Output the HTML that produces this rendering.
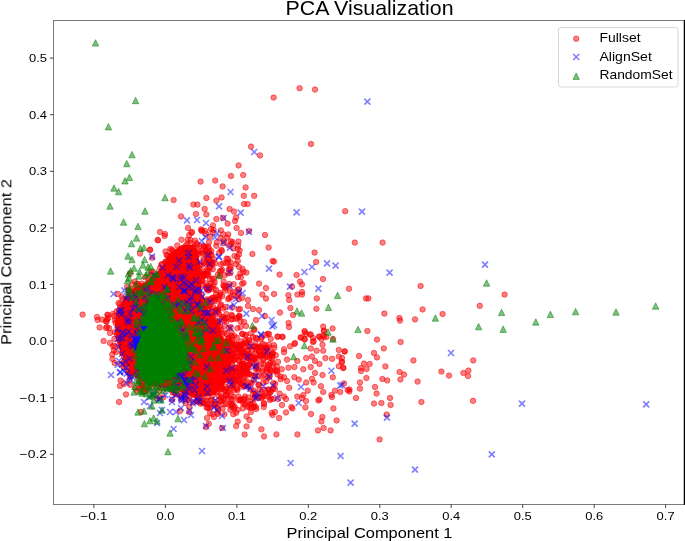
<!DOCTYPE html><html><head><meta charset="utf-8"><style>html,body{margin:0;padding:0;background:#fff;overflow:hidden}svg{display:block}</style></head><body><svg width="685" height="541" viewBox="0 0 685 541">
<defs>
<clipPath id="c"><rect x="53.5" y="20.5" width="631.5" height="484.0"/></clipPath>
<circle id="o" r="2.75" fill="rgba(255,0,0,0.5)" stroke="rgba(240,0,10,0.5)" stroke-width="1"/>
<path id="x" d="M-3.0 -3.0L3.0 3.0M-3.0 3.0L3.0 -3.0" stroke="rgba(0,0,255,0.5)" stroke-width="1.6" fill="none"/>
<path id="t" d="M0 -3.2L-3.2 3.2L3.2 3.2Z" fill="rgba(0,128,0,0.5)" stroke="rgba(0,128,0,0.5)" stroke-width="1"/>
<filter id="gs" x="-5%" y="-5%" width="110%" height="110%"><feColorMatrix type="saturate" values="0"/></filter>
</defs>
<rect width="685" height="541" fill="#fff"/>
<g clip-path="url(#c)">
<polygon points="145.0,282.0 155.0,274.0 163.0,266.0 167.0,256.0 174.0,250.0 182.0,245.0 194.0,245.0 198.0,252.0 200.0,264.0 201.0,280.0 202.0,296.0 208.0,310.0 218.0,322.0 222.0,335.0 228.0,345.0 232.0,360.0 228.0,380.0 215.0,395.0 195.0,398.0 175.0,390.0 150.0,385.0 135.0,378.0 124.0,360.0 116.0,340.0 115.0,322.0 120.0,305.0 130.0,290.0" fill="#ff0000"/>
<use href="#o" x="241.5" y="353.3"/>
<use href="#o" x="118.0" y="294.0"/>
<use href="#o" x="185.2" y="328.0"/>
<use href="#o" x="222.2" y="296.1"/>
<use href="#o" x="189.0" y="266.0"/>
<use href="#o" x="221.2" y="270.6"/>
<use href="#o" x="184.0" y="361.5"/>
<use href="#o" x="175.7" y="394.1"/>
<use href="#o" x="185.3" y="379.7"/>
<use href="#o" x="132.1" y="358.6"/>
<use href="#o" x="153.0" y="373.9"/>
<use href="#o" x="199.8" y="264.3"/>
<use href="#o" x="153.2" y="287.7"/>
<use href="#o" x="219.9" y="271.3"/>
<use href="#o" x="212.7" y="395.4"/>
<use href="#o" x="183.4" y="318.7"/>
<use href="#o" x="151.0" y="289.5"/>
<use href="#o" x="126.0" y="349.9"/>
<use href="#o" x="244.4" y="398.5"/>
<use href="#o" x="167.4" y="266.4"/>
<use href="#o" x="260.2" y="346.3"/>
<use href="#o" x="191.6" y="289.9"/>
<use href="#o" x="163.2" y="282.7"/>
<use href="#o" x="239.3" y="317.5"/>
<use href="#o" x="136.7" y="391.0"/>
<use href="#o" x="237.4" y="390.2"/>
<use href="#o" x="262.4" y="371.2"/>
<use href="#o" x="175.5" y="288.5"/>
<use href="#o" x="202.2" y="338.5"/>
<use href="#o" x="130.1" y="318.9"/>
<use href="#o" x="172.2" y="399.8"/>
<use href="#o" x="136.6" y="292.3"/>
<use href="#o" x="138.1" y="291.7"/>
<use href="#o" x="232.2" y="346.1"/>
<use href="#o" x="128.9" y="371.3"/>
<use href="#o" x="130.7" y="319.4"/>
<use href="#o" x="230.7" y="268.4"/>
<use href="#o" x="211.4" y="344.0"/>
<use href="#o" x="240.5" y="327.2"/>
<use href="#o" x="179.8" y="317.4"/>
<use href="#o" x="242.7" y="384.5"/>
<use href="#o" x="173.9" y="372.8"/>
<use href="#o" x="261.8" y="354.5"/>
<use href="#o" x="112.5" y="359.0"/>
<use href="#o" x="139.8" y="306.9"/>
<use href="#o" x="257.7" y="376.6"/>
<use href="#o" x="139.0" y="381.5"/>
<use href="#o" x="199.2" y="400.7"/>
<use href="#o" x="212.9" y="363.6"/>
<use href="#o" x="225.9" y="370.9"/>
<use href="#o" x="135.7" y="340.7"/>
<use href="#o" x="156.9" y="398.2"/>
<use href="#o" x="212.2" y="261.9"/>
<use href="#o" x="152.8" y="348.8"/>
<use href="#o" x="151.9" y="371.1"/>
<use href="#o" x="173.8" y="259.7"/>
<use href="#o" x="141.2" y="382.4"/>
<use href="#o" x="234.3" y="378.6"/>
<use href="#o" x="255.9" y="369.2"/>
<use href="#o" x="126.4" y="317.5"/>
<use href="#o" x="179.9" y="322.9"/>
<use href="#o" x="228.2" y="356.7"/>
<use href="#o" x="228.5" y="404.6"/>
<use href="#o" x="246.3" y="372.8"/>
<use href="#o" x="177.3" y="383.9"/>
<use href="#o" x="275.9" y="355.2"/>
<use href="#o" x="116.1" y="351.9"/>
<use href="#o" x="193.9" y="268.0"/>
<use href="#o" x="168.0" y="373.7"/>
<use href="#o" x="221.2" y="304.7"/>
<use href="#o" x="226.7" y="366.6"/>
<use href="#o" x="181.4" y="396.4"/>
<use href="#o" x="181.5" y="263.4"/>
<use href="#o" x="257.5" y="368.4"/>
<use href="#o" x="229.7" y="378.0"/>
<use href="#o" x="148.1" y="370.2"/>
<use href="#o" x="189.9" y="309.6"/>
<use href="#o" x="165.5" y="251.5"/>
<use href="#o" x="177.4" y="305.7"/>
<use href="#o" x="140.2" y="293.4"/>
<use href="#o" x="198.5" y="309.3"/>
<use href="#o" x="189.4" y="406.8"/>
<use href="#o" x="255.2" y="346.4"/>
<use href="#o" x="121.3" y="313.9"/>
<use href="#o" x="219.6" y="355.7"/>
<use href="#o" x="116.6" y="311.3"/>
<use href="#o" x="188.8" y="398.5"/>
<use href="#o" x="129.0" y="299.7"/>
<use href="#o" x="140.2" y="324.5"/>
<use href="#o" x="230.2" y="353.2"/>
<use href="#o" x="123.9" y="362.2"/>
<use href="#o" x="217.0" y="404.2"/>
<use href="#o" x="216.3" y="245.8"/>
<use href="#o" x="225.2" y="290.7"/>
<use href="#o" x="200.7" y="309.4"/>
<use href="#o" x="202.1" y="313.2"/>
<use href="#o" x="162.7" y="363.7"/>
<use href="#o" x="264.9" y="344.8"/>
<use href="#o" x="165.2" y="350.2"/>
<use href="#o" x="203.6" y="348.5"/>
<use href="#o" x="215.1" y="345.3"/>
<use href="#o" x="140.5" y="364.9"/>
<use href="#o" x="239.5" y="380.0"/>
<use href="#o" x="178.7" y="332.7"/>
<use href="#o" x="210.8" y="388.2"/>
<use href="#o" x="148.8" y="338.6"/>
<use href="#o" x="212.6" y="414.3"/>
<use href="#o" x="229.0" y="379.0"/>
<use href="#o" x="234.2" y="336.0"/>
<use href="#o" x="167.0" y="325.0"/>
<use href="#o" x="275.3" y="370.3"/>
<use href="#o" x="195.7" y="382.6"/>
<use href="#o" x="262.7" y="396.8"/>
<use href="#o" x="161.4" y="264.5"/>
<use href="#o" x="162.4" y="270.6"/>
<use href="#o" x="190.2" y="318.5"/>
<use href="#o" x="205.0" y="264.1"/>
<use href="#o" x="193.8" y="262.1"/>
<use href="#o" x="135.4" y="388.0"/>
<use href="#o" x="238.5" y="380.8"/>
<use href="#o" x="244.0" y="381.1"/>
<use href="#o" x="134.6" y="355.3"/>
<use href="#o" x="118.5" y="303.0"/>
<use href="#o" x="197.4" y="244.7"/>
<use href="#o" x="177.3" y="245.4"/>
<use href="#o" x="233.2" y="248.5"/>
<use href="#o" x="140.7" y="364.9"/>
<use href="#o" x="163.2" y="397.4"/>
<use href="#o" x="160.5" y="361.4"/>
<use href="#o" x="107.4" y="314.7"/>
<use href="#o" x="153.7" y="364.8"/>
<use href="#o" x="182.2" y="357.0"/>
<use href="#o" x="109.2" y="328.2"/>
<use href="#o" x="231.5" y="319.5"/>
<use href="#o" x="130.6" y="358.3"/>
<use href="#o" x="176.6" y="263.8"/>
<use href="#o" x="151.3" y="365.0"/>
<use href="#o" x="230.8" y="241.3"/>
<use href="#o" x="123.8" y="322.5"/>
<use href="#o" x="224.2" y="286.0"/>
<use href="#o" x="112.8" y="314.0"/>
<use href="#o" x="219.3" y="345.9"/>
<use href="#o" x="159.3" y="310.6"/>
<use href="#o" x="184.2" y="369.7"/>
<use href="#o" x="230.6" y="399.5"/>
<use href="#o" x="183.9" y="251.3"/>
<use href="#o" x="139.1" y="388.7"/>
<use href="#o" x="177.6" y="370.0"/>
<use href="#o" x="200.5" y="389.8"/>
<use href="#o" x="223.3" y="398.8"/>
<use href="#o" x="161.7" y="292.3"/>
<use href="#o" x="204.8" y="323.6"/>
<use href="#o" x="144.4" y="301.4"/>
<use href="#o" x="196.0" y="377.7"/>
<use href="#o" x="271.8" y="389.4"/>
<use href="#o" x="118.6" y="313.7"/>
<use href="#o" x="172.7" y="392.6"/>
<use href="#o" x="242.9" y="355.6"/>
<use href="#o" x="187.3" y="297.3"/>
<use href="#o" x="157.7" y="372.8"/>
<use href="#o" x="192.3" y="253.8"/>
<use href="#o" x="182.4" y="324.4"/>
<use href="#o" x="259.5" y="389.2"/>
<use href="#o" x="180.5" y="373.8"/>
<use href="#o" x="141.7" y="323.3"/>
<use href="#o" x="250.8" y="333.4"/>
<use href="#o" x="107.0" y="327.0"/>
<use href="#o" x="230.7" y="327.1"/>
<use href="#o" x="200.2" y="376.2"/>
<use href="#o" x="203.9" y="276.0"/>
<use href="#o" x="181.6" y="318.0"/>
<use href="#o" x="105.8" y="321.2"/>
<use href="#o" x="185.9" y="380.6"/>
<use href="#o" x="119.8" y="346.6"/>
<use href="#o" x="114.0" y="315.9"/>
<use href="#o" x="159.8" y="279.2"/>
<use href="#o" x="204.9" y="383.7"/>
<use href="#o" x="242.4" y="370.9"/>
<use href="#o" x="213.9" y="386.1"/>
<use href="#o" x="256.7" y="364.1"/>
<use href="#o" x="159.2" y="289.3"/>
<use href="#o" x="132.3" y="319.6"/>
<use href="#o" x="220.9" y="230.4"/>
<use href="#o" x="223.3" y="308.5"/>
<use href="#o" x="185.8" y="307.2"/>
<use href="#o" x="214.9" y="333.3"/>
<use href="#o" x="232.1" y="357.0"/>
<use href="#o" x="244.2" y="399.4"/>
<use href="#o" x="151.0" y="326.8"/>
<use href="#o" x="166.1" y="320.7"/>
<use href="#o" x="132.5" y="335.1"/>
<use href="#o" x="232.2" y="386.2"/>
<use href="#o" x="150.3" y="306.7"/>
<use href="#o" x="201.7" y="231.1"/>
<use href="#o" x="198.4" y="370.7"/>
<use href="#o" x="167.5" y="280.5"/>
<use href="#o" x="199.6" y="320.7"/>
<use href="#o" x="157.6" y="383.2"/>
<use href="#o" x="129.9" y="375.4"/>
<use href="#o" x="196.2" y="268.5"/>
<use href="#o" x="132.0" y="299.4"/>
<use href="#o" x="226.4" y="321.7"/>
<use href="#o" x="197.7" y="397.9"/>
<use href="#o" x="174.9" y="375.0"/>
<use href="#o" x="193.0" y="395.0"/>
<use href="#o" x="133.0" y="349.1"/>
<use href="#o" x="180.1" y="314.9"/>
<use href="#o" x="244.9" y="386.1"/>
<use href="#o" x="181.4" y="239.7"/>
<use href="#o" x="235.7" y="318.9"/>
<use href="#o" x="210.7" y="266.6"/>
<use href="#o" x="277.5" y="374.4"/>
<use href="#o" x="120.5" y="380.5"/>
<use href="#o" x="231.7" y="364.2"/>
<use href="#o" x="121.2" y="364.1"/>
<use href="#o" x="260.8" y="339.3"/>
<use href="#o" x="129.2" y="339.6"/>
<use href="#o" x="193.3" y="402.4"/>
<use href="#o" x="266.7" y="371.4"/>
<use href="#o" x="207.3" y="404.2"/>
<use href="#o" x="255.8" y="337.8"/>
<use href="#o" x="186.9" y="272.1"/>
<use href="#o" x="264.7" y="396.1"/>
<use href="#o" x="268.5" y="393.7"/>
<use href="#o" x="112.2" y="354.4"/>
<use href="#o" x="204.5" y="387.9"/>
<use href="#o" x="210.5" y="307.1"/>
<use href="#o" x="148.3" y="278.9"/>
<use href="#o" x="203.4" y="320.8"/>
<use href="#o" x="189.0" y="374.4"/>
<use href="#o" x="218.9" y="374.6"/>
<use href="#o" x="186.1" y="252.6"/>
<use href="#o" x="106.7" y="321.5"/>
<use href="#o" x="193.1" y="389.4"/>
<use href="#o" x="167.7" y="303.0"/>
<use href="#o" x="174.0" y="301.9"/>
<use href="#o" x="268.1" y="354.1"/>
<use href="#o" x="223.9" y="240.9"/>
<use href="#o" x="265.4" y="355.6"/>
<use href="#o" x="147.6" y="389.0"/>
<use href="#o" x="222.3" y="334.4"/>
<use href="#o" x="227.9" y="398.6"/>
<use href="#o" x="209.0" y="285.9"/>
<use href="#o" x="157.7" y="364.3"/>
<use href="#o" x="167.8" y="338.8"/>
<use href="#o" x="140.0" y="289.0"/>
<use href="#o" x="159.3" y="390.8"/>
<use href="#o" x="244.4" y="343.4"/>
<use href="#o" x="196.4" y="262.6"/>
<use href="#o" x="148.0" y="367.1"/>
<use href="#o" x="243.4" y="404.0"/>
<use href="#o" x="263.1" y="354.5"/>
<use href="#o" x="195.0" y="240.7"/>
<use href="#o" x="261.1" y="363.7"/>
<use href="#o" x="168.3" y="273.8"/>
<use href="#o" x="165.8" y="321.7"/>
<use href="#o" x="128.8" y="325.8"/>
<use href="#o" x="160.2" y="366.9"/>
<use href="#o" x="181.6" y="355.4"/>
<use href="#o" x="207.3" y="288.0"/>
<use href="#o" x="217.9" y="274.5"/>
<use href="#o" x="187.3" y="243.5"/>
<use href="#o" x="131.0" y="331.8"/>
<use href="#o" x="107.8" y="315.2"/>
<use href="#o" x="182.9" y="303.2"/>
<use href="#o" x="113.9" y="350.5"/>
<use href="#o" x="205.0" y="308.3"/>
<use href="#o" x="205.0" y="367.6"/>
<use href="#o" x="221.9" y="250.9"/>
<use href="#o" x="200.0" y="345.7"/>
<use href="#o" x="165.0" y="361.3"/>
<use href="#o" x="201.9" y="230.2"/>
<use href="#o" x="220.3" y="305.4"/>
<use href="#o" x="207.9" y="407.1"/>
<use href="#o" x="168.6" y="370.9"/>
<use href="#o" x="174.6" y="378.9"/>
<use href="#o" x="217.5" y="412.6"/>
<use href="#o" x="123.8" y="366.9"/>
<use href="#o" x="122.9" y="352.4"/>
<use href="#o" x="186.8" y="251.6"/>
<use href="#o" x="143.1" y="350.8"/>
<use href="#o" x="144.7" y="298.0"/>
<use href="#o" x="153.9" y="310.4"/>
<use href="#o" x="151.4" y="335.3"/>
<use href="#o" x="267.4" y="368.0"/>
<use href="#o" x="273.9" y="345.1"/>
<use href="#o" x="258.4" y="384.9"/>
<use href="#o" x="175.6" y="287.2"/>
<use href="#o" x="181.9" y="253.1"/>
<use href="#o" x="218.8" y="330.2"/>
<use href="#o" x="161.7" y="330.1"/>
<use href="#o" x="163.6" y="368.8"/>
<use href="#o" x="223.6" y="243.2"/>
<use href="#o" x="157.1" y="302.5"/>
<use href="#o" x="193.9" y="323.7"/>
<use href="#o" x="182.7" y="277.8"/>
<use href="#o" x="203.2" y="400.3"/>
<use href="#o" x="137.5" y="312.7"/>
<use href="#o" x="224.3" y="359.5"/>
<use href="#o" x="164.4" y="342.3"/>
<use href="#o" x="198.0" y="305.7"/>
<use href="#o" x="257.1" y="338.6"/>
<use href="#o" x="159.7" y="386.3"/>
<use href="#o" x="232.7" y="385.4"/>
<use href="#o" x="195.7" y="372.3"/>
<use href="#o" x="202.5" y="365.0"/>
<use href="#o" x="173.7" y="275.0"/>
<use href="#o" x="198.9" y="386.6"/>
<use href="#o" x="172.0" y="358.2"/>
<use href="#o" x="237.3" y="328.3"/>
<use href="#o" x="232.0" y="373.2"/>
<use href="#o" x="238.5" y="309.4"/>
<use href="#o" x="112.9" y="346.2"/>
<use href="#o" x="231.4" y="403.8"/>
<use href="#o" x="148.6" y="375.5"/>
<use href="#o" x="159.5" y="397.2"/>
<use href="#o" x="156.4" y="321.5"/>
<use href="#o" x="193.6" y="274.4"/>
<use href="#o" x="262.8" y="394.3"/>
<use href="#o" x="202.3" y="350.2"/>
<use href="#o" x="216.0" y="297.3"/>
<use href="#o" x="114.7" y="363.1"/>
<use href="#o" x="142.3" y="385.1"/>
<use href="#o" x="212.4" y="314.9"/>
<use href="#o" x="172.9" y="250.5"/>
<use href="#o" x="130.9" y="337.6"/>
<use href="#o" x="225.3" y="306.9"/>
<use href="#o" x="192.0" y="356.1"/>
<use href="#o" x="179.2" y="287.0"/>
<use href="#o" x="128.4" y="297.5"/>
<use href="#o" x="213.4" y="384.8"/>
<use href="#o" x="162.4" y="348.7"/>
<use href="#o" x="165.9" y="335.7"/>
<use href="#o" x="193.2" y="247.6"/>
<use href="#o" x="210.3" y="358.7"/>
<use href="#o" x="234.7" y="359.8"/>
<use href="#o" x="199.6" y="363.6"/>
<use href="#o" x="137.8" y="323.8"/>
<use href="#o" x="231.1" y="395.6"/>
<use href="#o" x="197.0" y="307.7"/>
<use href="#o" x="130.1" y="384.8"/>
<use href="#o" x="146.5" y="339.2"/>
<use href="#o" x="122.9" y="333.0"/>
<use href="#o" x="164.7" y="290.8"/>
<use href="#o" x="228.3" y="341.7"/>
<use href="#o" x="235.7" y="381.3"/>
<use href="#o" x="161.9" y="269.8"/>
<use href="#o" x="159.6" y="384.9"/>
<use href="#o" x="181.5" y="299.7"/>
<use href="#o" x="175.7" y="348.9"/>
<use href="#o" x="147.9" y="379.0"/>
<use href="#o" x="139.6" y="333.2"/>
<use href="#o" x="193.7" y="328.3"/>
<use href="#o" x="175.7" y="371.6"/>
<use href="#o" x="146.3" y="391.3"/>
<use href="#o" x="156.6" y="305.0"/>
<use href="#o" x="179.3" y="330.5"/>
<use href="#o" x="206.2" y="377.0"/>
<use href="#o" x="137.3" y="368.9"/>
<use href="#o" x="229.5" y="385.8"/>
<use href="#o" x="174.6" y="328.5"/>
<use href="#o" x="189.0" y="259.7"/>
<use href="#o" x="216.2" y="323.6"/>
<use href="#o" x="200.3" y="373.8"/>
<use href="#o" x="207.7" y="348.6"/>
<use href="#o" x="171.5" y="262.7"/>
<use href="#o" x="194.4" y="314.7"/>
<use href="#o" x="196.6" y="395.5"/>
<use href="#o" x="176.9" y="282.4"/>
<use href="#o" x="174.6" y="392.2"/>
<use href="#o" x="170.6" y="260.2"/>
<use href="#o" x="182.2" y="394.8"/>
<use href="#o" x="204.0" y="275.0"/>
<use href="#o" x="198.1" y="340.4"/>
<use href="#o" x="208.2" y="390.2"/>
<use href="#o" x="214.9" y="320.6"/>
<use href="#o" x="184.6" y="286.3"/>
<use href="#o" x="184.9" y="290.3"/>
<use href="#o" x="192.5" y="301.7"/>
<use href="#o" x="187.1" y="389.1"/>
<use href="#o" x="179.6" y="359.1"/>
<use href="#o" x="172.0" y="306.5"/>
<use href="#o" x="191.4" y="276.0"/>
<use href="#o" x="183.0" y="389.5"/>
<use href="#o" x="168.5" y="273.3"/>
<use href="#o" x="168.8" y="273.8"/>
<use href="#o" x="200.3" y="307.3"/>
<use href="#o" x="205.0" y="403.5"/>
<use href="#o" x="171.7" y="249.7"/>
<use href="#o" x="172.1" y="389.8"/>
<use href="#o" x="175.2" y="343.2"/>
<use href="#o" x="194.6" y="250.7"/>
<use href="#o" x="221.4" y="388.4"/>
<use href="#o" x="156.2" y="341.1"/>
<use href="#o" x="231.1" y="353.1"/>
<use href="#o" x="183.0" y="288.3"/>
<use href="#o" x="187.4" y="307.1"/>
<use href="#o" x="116.9" y="319.1"/>
<use href="#o" x="244.3" y="367.6"/>
<use href="#o" x="215.0" y="339.5"/>
<use href="#o" x="123.1" y="349.0"/>
<use href="#o" x="189.4" y="343.5"/>
<use href="#o" x="190.5" y="243.1"/>
<use href="#o" x="194.9" y="293.0"/>
<use href="#o" x="114.8" y="331.9"/>
<use href="#o" x="199.5" y="370.2"/>
<use href="#o" x="236.8" y="389.0"/>
<use href="#o" x="171.7" y="257.0"/>
<use href="#o" x="149.8" y="354.8"/>
<use href="#o" x="182.7" y="285.1"/>
<use href="#o" x="184.1" y="338.5"/>
<use href="#o" x="200.6" y="298.6"/>
<use href="#o" x="150.1" y="379.3"/>
<use href="#o" x="199.9" y="268.8"/>
<use href="#o" x="184.1" y="255.6"/>
<use href="#o" x="205.5" y="251.7"/>
<use href="#o" x="215.1" y="335.9"/>
<use href="#o" x="208.5" y="372.0"/>
<use href="#o" x="208.5" y="363.1"/>
<use href="#o" x="203.7" y="338.5"/>
<use href="#o" x="200.6" y="313.9"/>
<use href="#o" x="172.5" y="277.7"/>
<use href="#o" x="211.8" y="368.2"/>
<use href="#o" x="191.3" y="311.2"/>
<use href="#o" x="178.1" y="277.6"/>
<use href="#o" x="225.9" y="395.6"/>
<use href="#o" x="171.9" y="296.4"/>
<use href="#o" x="204.3" y="276.2"/>
<use href="#o" x="147.9" y="313.2"/>
<use href="#o" x="200.1" y="375.2"/>
<use href="#o" x="175.7" y="297.1"/>
<use href="#o" x="160.1" y="332.4"/>
<use href="#o" x="116.9" y="334.4"/>
<use href="#o" x="202.8" y="394.0"/>
<use href="#o" x="133.1" y="316.9"/>
<use href="#o" x="173.7" y="338.4"/>
<use href="#o" x="182.6" y="271.3"/>
<use href="#o" x="167.6" y="255.4"/>
<use href="#o" x="133.4" y="292.8"/>
<use href="#o" x="203.8" y="274.4"/>
<use href="#o" x="127.7" y="341.9"/>
<use href="#o" x="187.2" y="362.4"/>
<use href="#o" x="223.5" y="380.2"/>
<use href="#o" x="185.3" y="362.9"/>
<use href="#o" x="204.9" y="352.3"/>
<use href="#o" x="115.7" y="322.9"/>
<use href="#o" x="181.6" y="380.4"/>
<use href="#o" x="175.0" y="348.0"/>
<use href="#o" x="180.3" y="309.4"/>
<use href="#o" x="179.9" y="257.0"/>
<use href="#o" x="179.8" y="256.8"/>
<use href="#o" x="227.6" y="353.8"/>
<use href="#o" x="206.4" y="358.3"/>
<use href="#o" x="185.7" y="403.1"/>
<use href="#o" x="176.6" y="296.5"/>
<use href="#o" x="224.8" y="350.6"/>
<use href="#o" x="195.7" y="359.0"/>
<use href="#o" x="224.4" y="332.6"/>
<use href="#o" x="141.6" y="292.3"/>
<use href="#o" x="172.4" y="360.8"/>
<use href="#o" x="225.6" y="380.0"/>
<use href="#o" x="171.7" y="346.0"/>
<use href="#o" x="171.0" y="329.1"/>
<use href="#o" x="194.5" y="270.2"/>
<use href="#o" x="193.5" y="379.7"/>
<use href="#o" x="212.7" y="345.2"/>
<use href="#o" x="158.2" y="372.9"/>
<use href="#o" x="129.5" y="373.6"/>
<use href="#o" x="207.2" y="388.3"/>
<use href="#o" x="134.8" y="371.1"/>
<use href="#o" x="166.0" y="383.7"/>
<use href="#o" x="181.4" y="277.7"/>
<use href="#o" x="152.6" y="336.9"/>
<use href="#o" x="153.1" y="323.6"/>
<use href="#o" x="179.5" y="378.7"/>
<use href="#o" x="163.0" y="343.9"/>
<use href="#o" x="160.2" y="363.8"/>
<use href="#o" x="225.2" y="349.3"/>
<use href="#o" x="210.5" y="347.3"/>
<use href="#o" x="159.1" y="341.4"/>
<use href="#o" x="126.3" y="351.2"/>
<use href="#o" x="182.8" y="349.3"/>
<use href="#o" x="187.1" y="365.6"/>
<use href="#o" x="192.0" y="283.1"/>
<use href="#o" x="161.5" y="362.6"/>
<use href="#o" x="138.0" y="293.0"/>
<use href="#o" x="143.4" y="392.0"/>
<use href="#o" x="220.3" y="379.6"/>
<use href="#o" x="168.3" y="362.9"/>
<use href="#o" x="210.4" y="346.5"/>
<use href="#o" x="206.9" y="270.0"/>
<use href="#o" x="130.8" y="370.5"/>
<use href="#o" x="147.8" y="382.8"/>
<use href="#o" x="201.4" y="309.1"/>
<use href="#o" x="213.8" y="388.2"/>
<use href="#o" x="147.2" y="317.5"/>
<use href="#o" x="179.3" y="338.6"/>
<use href="#o" x="186.2" y="279.1"/>
<use href="#o" x="220.5" y="327.1"/>
<use href="#o" x="171.9" y="315.0"/>
<use href="#o" x="122.5" y="353.1"/>
<use href="#o" x="155.2" y="321.4"/>
<use href="#o" x="181.0" y="287.0"/>
<use href="#o" x="238.8" y="375.7"/>
<use href="#o" x="141.8" y="289.8"/>
<use href="#o" x="178.4" y="267.6"/>
<use href="#o" x="170.4" y="306.2"/>
<use href="#o" x="208.0" y="258.9"/>
<use href="#o" x="222.4" y="347.2"/>
<use href="#o" x="243.5" y="367.7"/>
<use href="#o" x="174.2" y="302.3"/>
<use href="#o" x="142.2" y="294.3"/>
<use href="#o" x="186.4" y="355.5"/>
<use href="#o" x="151.4" y="387.1"/>
<use href="#o" x="178.6" y="379.5"/>
<use href="#o" x="181.2" y="399.6"/>
<use href="#o" x="178.5" y="359.0"/>
<use href="#o" x="180.9" y="248.8"/>
<use href="#o" x="135.9" y="353.8"/>
<use href="#o" x="229.3" y="371.1"/>
<use href="#o" x="202.2" y="345.1"/>
<use href="#o" x="166.0" y="300.1"/>
<use href="#o" x="215.4" y="361.9"/>
<use href="#o" x="171.5" y="338.1"/>
<use href="#o" x="141.0" y="380.2"/>
<use href="#o" x="156.1" y="318.9"/>
<use href="#o" x="136.8" y="338.5"/>
<use href="#o" x="125.5" y="329.3"/>
<use href="#o" x="165.6" y="319.5"/>
<use href="#o" x="120.9" y="318.6"/>
<use href="#o" x="206.8" y="316.2"/>
<use href="#o" x="187.6" y="337.0"/>
<use href="#o" x="203.4" y="374.7"/>
<use href="#o" x="178.4" y="381.0"/>
<use href="#o" x="167.7" y="334.0"/>
<use href="#o" x="205.9" y="381.0"/>
<use href="#o" x="181.7" y="355.2"/>
<use href="#o" x="128.6" y="292.4"/>
<use href="#o" x="147.4" y="354.9"/>
<use href="#o" x="189.7" y="301.7"/>
<use href="#o" x="175.1" y="382.7"/>
<use href="#o" x="183.1" y="318.9"/>
<use href="#o" x="210.8" y="405.6"/>
<use href="#o" x="142.0" y="286.4"/>
<use href="#o" x="180.5" y="264.1"/>
<use href="#o" x="181.4" y="309.5"/>
<use href="#o" x="164.1" y="345.0"/>
<use href="#o" x="200.1" y="392.5"/>
<use href="#o" x="145.7" y="389.1"/>
<use href="#o" x="188.0" y="332.8"/>
<use href="#o" x="170.3" y="248.9"/>
<use href="#o" x="206.4" y="332.0"/>
<use href="#o" x="152.0" y="351.0"/>
<use href="#o" x="193.9" y="258.2"/>
<use href="#o" x="202.0" y="356.5"/>
<use href="#o" x="169.0" y="262.2"/>
<use href="#o" x="191.1" y="340.0"/>
<use href="#o" x="183.0" y="295.2"/>
<use href="#o" x="186.4" y="289.9"/>
<use href="#o" x="194.3" y="316.4"/>
<use href="#o" x="134.8" y="281.5"/>
<use href="#o" x="171.4" y="367.9"/>
<use href="#o" x="129.2" y="291.1"/>
<use href="#o" x="220.1" y="382.4"/>
<use href="#o" x="140.9" y="357.9"/>
<use href="#o" x="143.5" y="369.9"/>
<use href="#o" x="141.4" y="312.6"/>
<use href="#o" x="171.9" y="389.2"/>
<use href="#o" x="210.3" y="400.6"/>
<use href="#o" x="201.8" y="280.2"/>
<use href="#o" x="189.4" y="277.2"/>
<use href="#o" x="156.6" y="373.2"/>
<use href="#o" x="196.5" y="285.3"/>
<use href="#o" x="132.2" y="284.3"/>
<use href="#o" x="217.7" y="325.9"/>
<use href="#o" x="126.2" y="330.3"/>
<use href="#o" x="227.5" y="359.2"/>
<use href="#o" x="174.5" y="301.9"/>
<use href="#o" x="214.3" y="353.0"/>
<use href="#o" x="229.8" y="355.7"/>
<use href="#o" x="227.5" y="348.3"/>
<use href="#o" x="140.2" y="365.8"/>
<use href="#o" x="162.0" y="264.2"/>
<use href="#o" x="193.6" y="272.8"/>
<use href="#o" x="132.3" y="348.5"/>
<use href="#o" x="200.6" y="246.1"/>
<use href="#o" x="209.1" y="380.2"/>
<use href="#o" x="225.4" y="390.3"/>
<use href="#o" x="203.6" y="258.8"/>
<use href="#o" x="208.8" y="350.1"/>
<use href="#o" x="161.2" y="301.0"/>
<use href="#o" x="177.4" y="394.7"/>
<use href="#o" x="179.5" y="260.7"/>
<use href="#o" x="168.9" y="281.7"/>
<use href="#o" x="140.7" y="337.8"/>
<use href="#o" x="127.7" y="371.4"/>
<use href="#o" x="134.6" y="367.4"/>
<use href="#o" x="185.7" y="391.6"/>
<use href="#o" x="209.6" y="267.6"/>
<use href="#o" x="171.8" y="291.3"/>
<use href="#o" x="172.8" y="261.8"/>
<use href="#o" x="187.0" y="343.1"/>
<use href="#o" x="208.2" y="381.5"/>
<use href="#o" x="124.1" y="322.9"/>
<use href="#o" x="190.3" y="380.0"/>
<use href="#o" x="114.7" y="320.1"/>
<use href="#o" x="186.8" y="251.1"/>
<use href="#o" x="193.1" y="289.8"/>
<use href="#o" x="198.7" y="400.3"/>
<use href="#o" x="159.0" y="298.8"/>
<use href="#o" x="229.3" y="356.2"/>
<use href="#o" x="224.0" y="346.0"/>
<use href="#o" x="232.0" y="361.7"/>
<use href="#o" x="197.3" y="291.9"/>
<use href="#o" x="199.0" y="252.3"/>
<use href="#o" x="223.3" y="351.9"/>
<use href="#o" x="189.3" y="302.1"/>
<use href="#o" x="141.9" y="337.2"/>
<use href="#o" x="158.0" y="310.7"/>
<use href="#o" x="208.7" y="356.6"/>
<use href="#o" x="150.0" y="358.1"/>
<use href="#o" x="224.7" y="346.8"/>
<use href="#o" x="183.2" y="368.3"/>
<use href="#o" x="150.0" y="354.8"/>
<use href="#o" x="193.5" y="304.8"/>
<use href="#o" x="190.6" y="386.1"/>
<use href="#o" x="155.5" y="319.0"/>
<use href="#o" x="159.9" y="370.7"/>
<use href="#o" x="176.7" y="356.4"/>
<use href="#o" x="199.7" y="338.5"/>
<use href="#o" x="186.0" y="355.0"/>
<use href="#o" x="164.2" y="290.6"/>
<use href="#o" x="124.1" y="346.8"/>
<use href="#o" x="184.2" y="395.3"/>
<use href="#o" x="135.3" y="291.2"/>
<use href="#o" x="178.7" y="346.2"/>
<use href="#o" x="207.4" y="378.3"/>
<use href="#o" x="192.7" y="265.2"/>
<use href="#o" x="177.8" y="293.4"/>
<use href="#o" x="175.7" y="255.9"/>
<use href="#o" x="152.2" y="329.0"/>
<use href="#o" x="184.3" y="354.1"/>
<use href="#o" x="148.2" y="299.5"/>
<use href="#o" x="150.9" y="274.6"/>
<use href="#o" x="174.3" y="267.2"/>
<use href="#o" x="192.5" y="251.9"/>
<use href="#o" x="161.6" y="281.0"/>
<use href="#o" x="165.3" y="261.9"/>
<use href="#o" x="193.3" y="305.7"/>
<use href="#o" x="125.8" y="315.2"/>
<use href="#o" x="182.3" y="352.2"/>
<use href="#o" x="132.6" y="371.1"/>
<use href="#o" x="163.2" y="328.5"/>
<use href="#o" x="190.4" y="309.6"/>
<use href="#o" x="175.4" y="344.9"/>
<use href="#o" x="122.4" y="347.9"/>
<use href="#o" x="189.5" y="269.8"/>
<use href="#o" x="163.4" y="316.3"/>
<use href="#o" x="196.4" y="311.3"/>
<use href="#o" x="215.9" y="345.1"/>
<use href="#o" x="214.1" y="401.8"/>
<use href="#o" x="185.1" y="377.4"/>
<use href="#o" x="173.5" y="365.9"/>
<use href="#o" x="130.3" y="292.9"/>
<use href="#o" x="184.2" y="382.3"/>
<use href="#o" x="192.8" y="296.1"/>
<use href="#o" x="204.2" y="310.8"/>
<use href="#o" x="205.4" y="247.2"/>
<use href="#o" x="148.9" y="355.4"/>
<use href="#o" x="187.1" y="272.5"/>
<use href="#o" x="215.6" y="404.7"/>
<use href="#o" x="195.3" y="287.2"/>
<use href="#o" x="187.6" y="239.7"/>
<use href="#o" x="223.8" y="399.4"/>
<use href="#o" x="155.7" y="341.6"/>
<use href="#o" x="193.1" y="286.8"/>
<use href="#o" x="146.2" y="374.1"/>
<use href="#o" x="227.0" y="360.3"/>
<use href="#o" x="136.6" y="355.3"/>
<use href="#o" x="231.2" y="368.3"/>
<use href="#o" x="182.7" y="298.3"/>
<use href="#o" x="180.9" y="309.4"/>
<use href="#o" x="171.2" y="389.3"/>
<use href="#o" x="219.2" y="362.2"/>
<use href="#o" x="175.0" y="258.9"/>
<use href="#o" x="193.6" y="264.4"/>
<use href="#o" x="214.7" y="332.0"/>
<use href="#o" x="156.8" y="349.9"/>
<use href="#o" x="148.7" y="326.2"/>
<use href="#o" x="214.1" y="325.9"/>
<use href="#o" x="196.1" y="294.8"/>
<use href="#o" x="208.6" y="331.4"/>
<use href="#o" x="196.6" y="316.8"/>
<use href="#o" x="160.5" y="352.0"/>
<use href="#o" x="129.0" y="328.1"/>
<use href="#o" x="196.2" y="309.4"/>
<use href="#o" x="182.1" y="366.3"/>
<use href="#o" x="209.2" y="289.7"/>
<use href="#o" x="214.8" y="369.8"/>
<use href="#o" x="163.7" y="353.2"/>
<use href="#o" x="140.5" y="291.1"/>
<use href="#o" x="126.9" y="298.5"/>
<use href="#o" x="149.1" y="291.1"/>
<use href="#o" x="195.9" y="309.1"/>
<use href="#o" x="185.6" y="272.9"/>
<use href="#o" x="223.9" y="365.5"/>
<use href="#o" x="143.5" y="391.9"/>
<use href="#o" x="215.4" y="330.9"/>
<use href="#o" x="185.4" y="320.8"/>
<use href="#o" x="183.3" y="345.8"/>
<use href="#o" x="150.3" y="354.2"/>
<use href="#o" x="208.2" y="302.3"/>
<use href="#o" x="122.5" y="299.2"/>
<use href="#o" x="198.6" y="273.6"/>
<use href="#o" x="209.6" y="386.2"/>
<use href="#o" x="207.0" y="363.7"/>
<use href="#o" x="147.8" y="312.8"/>
<use href="#o" x="139.6" y="363.3"/>
<use href="#o" x="189.1" y="260.9"/>
<use href="#o" x="163.2" y="334.1"/>
<use href="#o" x="204.0" y="262.6"/>
<use href="#o" x="136.7" y="284.0"/>
<use href="#o" x="239.0" y="383.0"/>
<use href="#o" x="208.8" y="305.7"/>
<use href="#o" x="220.2" y="351.3"/>
<use href="#o" x="157.9" y="325.1"/>
<use href="#o" x="145.2" y="352.2"/>
<use href="#o" x="206.4" y="400.8"/>
<use href="#o" x="193.5" y="332.7"/>
<use href="#o" x="142.9" y="386.2"/>
<use href="#o" x="165.8" y="280.0"/>
<use href="#o" x="160.0" y="289.0"/>
<use href="#o" x="151.6" y="348.1"/>
<use href="#o" x="176.8" y="363.6"/>
<use href="#o" x="222.6" y="378.1"/>
<use href="#o" x="162.6" y="347.7"/>
<use href="#o" x="228.0" y="373.5"/>
<use href="#o" x="135.1" y="345.8"/>
<use href="#o" x="223.3" y="358.8"/>
<use href="#o" x="156.0" y="335.3"/>
<use href="#o" x="157.5" y="357.5"/>
<use href="#o" x="129.0" y="352.5"/>
<use href="#o" x="166.2" y="325.0"/>
<use href="#o" x="224.6" y="348.4"/>
<use href="#o" x="141.8" y="283.6"/>
<use href="#o" x="187.2" y="326.9"/>
<use href="#o" x="166.3" y="289.6"/>
<use href="#o" x="152.4" y="329.9"/>
<use href="#o" x="150.1" y="300.8"/>
<use href="#o" x="135.7" y="348.4"/>
<use href="#o" x="203.4" y="319.2"/>
<use href="#o" x="174.6" y="282.0"/>
<use href="#o" x="186.5" y="398.9"/>
<use href="#o" x="185.7" y="387.8"/>
<use href="#o" x="163.8" y="330.0"/>
<use href="#o" x="155.6" y="367.6"/>
<use href="#o" x="205.9" y="249.4"/>
<use href="#o" x="154.3" y="320.8"/>
<use href="#o" x="197.2" y="296.6"/>
<use href="#o" x="225.2" y="374.8"/>
<use href="#o" x="136.5" y="285.6"/>
<use href="#o" x="190.4" y="239.9"/>
<use href="#o" x="144.6" y="294.8"/>
<use href="#o" x="221.3" y="400.7"/>
<use href="#o" x="165.7" y="342.7"/>
<use href="#o" x="191.4" y="374.8"/>
<use href="#o" x="196.5" y="357.2"/>
<use href="#o" x="166.1" y="263.1"/>
<use href="#o" x="169.0" y="268.6"/>
<use href="#o" x="132.5" y="348.7"/>
<use href="#o" x="208.2" y="254.3"/>
<use href="#o" x="236.7" y="348.6"/>
<use href="#o" x="147.4" y="303.6"/>
<use href="#o" x="178.4" y="357.6"/>
<use href="#o" x="151.5" y="296.9"/>
<use href="#o" x="198.6" y="328.6"/>
<use href="#o" x="194.4" y="297.5"/>
<use href="#o" x="209.0" y="262.3"/>
<use href="#o" x="208.6" y="288.9"/>
<use href="#o" x="203.2" y="273.9"/>
<use href="#o" x="206.0" y="257.5"/>
<use href="#o" x="179.3" y="372.7"/>
<use href="#o" x="158.6" y="296.7"/>
<use href="#o" x="170.6" y="255.3"/>
<use href="#o" x="141.3" y="344.8"/>
<use href="#o" x="223.9" y="369.8"/>
<use href="#o" x="211.6" y="399.9"/>
<use href="#o" x="145.0" y="322.8"/>
<use href="#o" x="164.4" y="339.8"/>
<use href="#o" x="135.8" y="319.7"/>
<use href="#o" x="153.2" y="306.4"/>
<use href="#o" x="149.7" y="324.3"/>
<use href="#o" x="161.6" y="299.1"/>
<use href="#o" x="146.4" y="368.8"/>
<use href="#o" x="152.5" y="271.4"/>
<use href="#o" x="218.1" y="322.8"/>
<use href="#o" x="177.6" y="377.6"/>
<use href="#o" x="181.1" y="361.6"/>
<use href="#o" x="199.1" y="301.3"/>
<use href="#o" x="179.2" y="384.8"/>
<use href="#o" x="188.9" y="295.3"/>
<use href="#o" x="126.3" y="364.5"/>
<use href="#o" x="215.9" y="351.9"/>
<use href="#o" x="127.5" y="311.1"/>
<use href="#o" x="154.5" y="342.2"/>
<use href="#o" x="165.5" y="329.8"/>
<use href="#o" x="144.3" y="307.8"/>
<use href="#o" x="211.3" y="311.5"/>
<use href="#o" x="197.9" y="323.5"/>
<use href="#o" x="200.5" y="403.7"/>
<use href="#o" x="212.2" y="377.3"/>
<use href="#o" x="211.7" y="350.1"/>
<use href="#o" x="180.5" y="299.7"/>
<use href="#o" x="166.4" y="270.3"/>
<use href="#o" x="217.6" y="323.6"/>
<use href="#o" x="197.6" y="362.9"/>
<use href="#o" x="173.9" y="322.3"/>
<use href="#o" x="146.0" y="380.3"/>
<use href="#o" x="124.9" y="324.4"/>
<use href="#o" x="173.5" y="390.0"/>
<use href="#o" x="165.9" y="261.6"/>
<use href="#o" x="218.1" y="346.5"/>
<use href="#o" x="148.1" y="286.4"/>
<use href="#o" x="226.2" y="394.9"/>
<use href="#o" x="199.4" y="295.5"/>
<use href="#o" x="195.5" y="322.9"/>
<use href="#o" x="205.3" y="361.1"/>
<use href="#o" x="209.3" y="332.6"/>
<use href="#o" x="230.9" y="358.1"/>
<use href="#o" x="135.3" y="292.9"/>
<use href="#o" x="184.0" y="343.2"/>
<use href="#o" x="162.6" y="338.8"/>
<use href="#o" x="140.6" y="342.3"/>
<use href="#o" x="166.5" y="372.3"/>
<use href="#o" x="194.7" y="246.2"/>
<use href="#o" x="221.0" y="330.2"/>
<use href="#o" x="208.7" y="368.3"/>
<use href="#o" x="225.0" y="358.5"/>
<use href="#o" x="216.0" y="346.4"/>
<use href="#o" x="154.0" y="325.1"/>
<use href="#o" x="229.7" y="344.0"/>
<use href="#o" x="204.7" y="300.8"/>
<use href="#o" x="167.3" y="343.0"/>
<use href="#o" x="186.1" y="372.7"/>
<use href="#o" x="205.3" y="341.8"/>
<use href="#o" x="199.6" y="305.1"/>
<use href="#o" x="121.0" y="327.1"/>
<use href="#o" x="185.0" y="357.1"/>
<use href="#o" x="184.5" y="249.8"/>
<use href="#o" x="173.9" y="382.1"/>
<use href="#o" x="198.6" y="298.8"/>
<use href="#o" x="201.4" y="280.9"/>
<use href="#o" x="189.5" y="369.3"/>
<use href="#o" x="208.4" y="367.6"/>
<use href="#o" x="142.5" y="386.2"/>
<use href="#o" x="174.3" y="313.0"/>
<use href="#o" x="195.1" y="321.0"/>
<use href="#o" x="217.1" y="392.1"/>
<use href="#o" x="164.6" y="387.5"/>
<use href="#o" x="208.5" y="275.4"/>
<use href="#o" x="243.9" y="366.0"/>
<use href="#o" x="179.0" y="262.5"/>
<use href="#o" x="198.5" y="297.7"/>
<use href="#o" x="207.0" y="328.7"/>
<use href="#o" x="210.8" y="407.0"/>
<use href="#o" x="166.4" y="321.1"/>
<use href="#o" x="184.4" y="361.0"/>
<use href="#o" x="201.7" y="280.7"/>
<use href="#o" x="179.5" y="293.8"/>
<use href="#o" x="201.1" y="339.6"/>
<use href="#o" x="118.6" y="314.6"/>
<use href="#o" x="229.9" y="374.1"/>
<use href="#o" x="191.8" y="369.8"/>
<use href="#o" x="240.5" y="356.5"/>
<use href="#o" x="125.2" y="306.6"/>
<use href="#o" x="208.9" y="332.3"/>
<use href="#o" x="214.3" y="335.4"/>
<use href="#o" x="152.9" y="284.5"/>
<use href="#o" x="151.6" y="272.6"/>
<use href="#o" x="218.6" y="347.3"/>
<use href="#o" x="188.2" y="346.7"/>
<use href="#o" x="121.5" y="344.5"/>
<use href="#o" x="202.3" y="402.9"/>
<use href="#o" x="168.8" y="295.3"/>
<use href="#o" x="138.4" y="293.3"/>
<use href="#o" x="134.1" y="299.4"/>
<use href="#o" x="169.6" y="299.4"/>
<use href="#o" x="151.7" y="344.7"/>
<use href="#o" x="177.7" y="307.7"/>
<use href="#o" x="145.1" y="277.3"/>
<use href="#o" x="159.1" y="275.5"/>
<use href="#o" x="124.1" y="357.1"/>
<use href="#o" x="183.4" y="365.4"/>
<use href="#o" x="160.1" y="277.7"/>
<use href="#o" x="182.4" y="330.8"/>
<use href="#o" x="166.5" y="279.3"/>
<use href="#o" x="145.3" y="353.5"/>
<use href="#o" x="139.8" y="365.4"/>
<use href="#o" x="132.7" y="294.1"/>
<use href="#o" x="175.3" y="282.1"/>
<use href="#o" x="187.7" y="374.0"/>
<use href="#o" x="149.2" y="348.5"/>
<use href="#o" x="129.1" y="290.2"/>
<use href="#o" x="150.6" y="333.6"/>
<use href="#o" x="166.6" y="255.0"/>
<use href="#o" x="159.8" y="282.9"/>
<use href="#o" x="180.7" y="292.6"/>
<use href="#o" x="145.4" y="370.4"/>
<use href="#o" x="206.8" y="299.4"/>
<use href="#o" x="187.9" y="320.5"/>
<use href="#o" x="199.3" y="363.8"/>
<use href="#o" x="228.9" y="341.8"/>
<use href="#o" x="233.7" y="354.5"/>
<use href="#o" x="239.0" y="377.5"/>
<use href="#o" x="154.9" y="362.3"/>
<use href="#o" x="138.9" y="352.6"/>
<use href="#o" x="183.6" y="376.6"/>
<use href="#o" x="201.3" y="399.8"/>
<use href="#o" x="143.6" y="305.4"/>
<use href="#o" x="133.8" y="318.2"/>
<use href="#o" x="186.8" y="390.0"/>
<use href="#o" x="184.8" y="335.5"/>
<use href="#o" x="118.4" y="324.1"/>
<use href="#o" x="186.5" y="268.8"/>
<use href="#o" x="191.2" y="299.1"/>
<use href="#o" x="154.9" y="279.6"/>
<use href="#o" x="198.9" y="402.0"/>
<use href="#o" x="156.0" y="316.8"/>
<use href="#o" x="188.0" y="400.3"/>
<use href="#o" x="161.7" y="317.7"/>
<use href="#o" x="163.5" y="333.8"/>
<use href="#o" x="134.3" y="331.5"/>
<use href="#o" x="123.6" y="329.1"/>
<use href="#o" x="223.5" y="358.3"/>
<use href="#o" x="126.4" y="347.8"/>
<use href="#o" x="212.1" y="365.8"/>
<use href="#o" x="141.1" y="387.6"/>
<use href="#o" x="205.8" y="370.4"/>
<use href="#o" x="208.0" y="381.3"/>
<use href="#o" x="147.2" y="339.7"/>
<use href="#o" x="196.5" y="243.3"/>
<use href="#o" x="219.3" y="376.5"/>
<use href="#o" x="185.9" y="354.5"/>
<use href="#o" x="153.0" y="367.1"/>
<use href="#o" x="221.0" y="356.9"/>
<use href="#o" x="226.6" y="389.0"/>
<use href="#o" x="152.0" y="372.0"/>
<use href="#o" x="196.1" y="380.3"/>
<use href="#o" x="126.9" y="357.4"/>
<use href="#o" x="166.4" y="297.1"/>
<use href="#o" x="171.2" y="335.0"/>
<use href="#o" x="189.0" y="289.6"/>
<use href="#o" x="131.8" y="367.6"/>
<use href="#o" x="197.6" y="293.7"/>
<use href="#o" x="133.8" y="293.9"/>
<use href="#o" x="199.0" y="398.2"/>
<use href="#o" x="191.3" y="248.1"/>
<use href="#o" x="227.9" y="357.1"/>
<use href="#o" x="233.3" y="384.9"/>
<use href="#o" x="192.3" y="325.8"/>
<use href="#o" x="160.4" y="277.0"/>
<use href="#o" x="186.8" y="327.5"/>
<use href="#o" x="137.1" y="363.4"/>
<use href="#o" x="205.2" y="251.5"/>
<use href="#o" x="137.1" y="321.5"/>
<use href="#o" x="160.0" y="268.0"/>
<use href="#o" x="207.0" y="397.1"/>
<use href="#o" x="150.5" y="322.6"/>
<use href="#o" x="194.2" y="305.9"/>
<use href="#o" x="203.0" y="367.0"/>
<use href="#o" x="156.8" y="308.2"/>
<use href="#o" x="195.4" y="316.1"/>
<use href="#o" x="220.3" y="374.1"/>
<use href="#o" x="174.6" y="260.9"/>
<use href="#o" x="216.4" y="342.6"/>
<use href="#o" x="196.3" y="254.4"/>
<use href="#o" x="151.1" y="384.5"/>
<use href="#o" x="189.5" y="385.9"/>
<use href="#o" x="163.7" y="304.6"/>
<use href="#o" x="172.6" y="279.8"/>
<use href="#o" x="153.6" y="316.7"/>
<use href="#o" x="137.4" y="342.2"/>
<use href="#o" x="169.9" y="300.9"/>
<use href="#o" x="196.4" y="354.4"/>
<use href="#o" x="131.4" y="375.1"/>
<use href="#o" x="236.2" y="367.4"/>
<use href="#o" x="205.9" y="304.1"/>
<use href="#o" x="122.4" y="338.5"/>
<use href="#o" x="185.5" y="245.8"/>
<use href="#o" x="163.9" y="329.7"/>
<use href="#o" x="174.7" y="326.4"/>
<use href="#o" x="231.7" y="369.6"/>
<use href="#o" x="141.2" y="384.9"/>
<use href="#o" x="209.4" y="381.1"/>
<use href="#o" x="193.6" y="272.8"/>
<use href="#o" x="159.7" y="365.3"/>
<use href="#o" x="183.7" y="272.5"/>
<use href="#o" x="131.2" y="289.3"/>
<use href="#o" x="231.5" y="344.5"/>
<use href="#o" x="196.3" y="315.5"/>
<use href="#o" x="161.6" y="329.6"/>
<use href="#o" x="192.6" y="293.8"/>
<use href="#o" x="139.8" y="345.5"/>
<use href="#o" x="191.8" y="254.6"/>
<use href="#o" x="189.3" y="379.1"/>
<use href="#o" x="241.6" y="363.8"/>
<use href="#o" x="130.8" y="351.0"/>
<use href="#o" x="129.3" y="380.6"/>
<use href="#o" x="155.8" y="312.8"/>
<use href="#o" x="157.1" y="286.4"/>
<use href="#o" x="156.7" y="360.2"/>
<use href="#o" x="185.1" y="268.3"/>
<use href="#o" x="196.5" y="401.0"/>
<use href="#o" x="210.7" y="336.9"/>
<use href="#o" x="130.8" y="347.8"/>
<use href="#o" x="226.4" y="391.4"/>
<use href="#o" x="187.1" y="338.4"/>
<use href="#o" x="138.3" y="284.1"/>
<use href="#o" x="195.7" y="315.8"/>
<use href="#o" x="198.6" y="296.0"/>
<use href="#o" x="163.9" y="292.1"/>
<use href="#o" x="173.9" y="293.6"/>
<use href="#o" x="147.6" y="375.5"/>
<use href="#o" x="222.3" y="388.6"/>
<use href="#o" x="185.1" y="282.1"/>
<use href="#o" x="147.6" y="370.4"/>
<use href="#o" x="152.8" y="350.3"/>
<use href="#o" x="162.8" y="337.7"/>
<use href="#o" x="224.8" y="364.1"/>
<use href="#o" x="120.3" y="307.2"/>
<use href="#o" x="242.7" y="367.4"/>
<use href="#o" x="239.7" y="383.2"/>
<use href="#o" x="250.9" y="389.5"/>
<use href="#o" x="218.5" y="395.7"/>
<use href="#o" x="234.5" y="378.5"/>
<use href="#o" x="255.5" y="393.3"/>
<use href="#o" x="253.5" y="407.0"/>
<use href="#o" x="223.0" y="404.3"/>
<use href="#o" x="269.6" y="375.4"/>
<use href="#o" x="247.4" y="407.0"/>
<use href="#o" x="236.1" y="357.3"/>
<use href="#o" x="258.9" y="384.7"/>
<use href="#o" x="232.1" y="407.3"/>
<use href="#o" x="250.0" y="346.9"/>
<use href="#o" x="234.2" y="408.5"/>
<use href="#o" x="245.0" y="396.4"/>
<use href="#o" x="235.0" y="372.2"/>
<use href="#o" x="240.4" y="399.5"/>
<use href="#o" x="261.6" y="398.2"/>
<use href="#o" x="264.9" y="352.8"/>
<use href="#o" x="275.2" y="383.8"/>
<use href="#o" x="238.7" y="347.1"/>
<use href="#o" x="273.0" y="365.3"/>
<use href="#o" x="222.5" y="408.6"/>
<use href="#o" x="227.6" y="338.5"/>
<use href="#o" x="230.8" y="389.7"/>
<use href="#o" x="259.0" y="398.1"/>
<use href="#o" x="234.7" y="367.6"/>
<use href="#o" x="249.0" y="342.7"/>
<use href="#o" x="271.0" y="398.6"/>
<use href="#o" x="248.2" y="358.3"/>
<use href="#o" x="257.7" y="358.3"/>
<use href="#o" x="262.0" y="391.7"/>
<use href="#o" x="254.8" y="396.7"/>
<use href="#o" x="232.9" y="404.6"/>
<use href="#o" x="252.3" y="359.1"/>
<use href="#o" x="244.0" y="364.2"/>
<use href="#o" x="263.2" y="382.6"/>
<use href="#o" x="254.3" y="398.4"/>
<use href="#o" x="218.6" y="341.0"/>
<use href="#o" x="272.9" y="399.0"/>
<use href="#o" x="266.5" y="348.7"/>
<use href="#o" x="232.6" y="355.1"/>
<use href="#o" x="263.0" y="368.5"/>
<use href="#o" x="254.8" y="357.7"/>
<use href="#o" x="208.3" y="408.2"/>
<use href="#o" x="219.5" y="399.5"/>
<use href="#o" x="232.4" y="378.6"/>
<use href="#o" x="221.9" y="353.7"/>
<use href="#o" x="235.6" y="370.7"/>
<use href="#o" x="225.7" y="386.8"/>
<use href="#o" x="263.8" y="407.0"/>
<use href="#o" x="239.1" y="361.1"/>
<use href="#o" x="235.1" y="370.7"/>
<use href="#o" x="233.3" y="348.2"/>
<use href="#o" x="235.9" y="344.7"/>
<use href="#o" x="226.2" y="358.8"/>
<use href="#o" x="228.6" y="337.9"/>
<use href="#o" x="269.8" y="363.1"/>
<use href="#o" x="269.8" y="392.9"/>
<use href="#o" x="222.6" y="388.9"/>
<use href="#o" x="241.7" y="384.4"/>
<use href="#o" x="253.2" y="356.2"/>
<use href="#o" x="224.8" y="364.7"/>
<use href="#o" x="254.4" y="406.6"/>
<use href="#o" x="249.1" y="364.6"/>
<use href="#o" x="206.6" y="407.7"/>
<use href="#o" x="221.0" y="393.9"/>
<use href="#o" x="242.7" y="408.4"/>
<use href="#o" x="215.0" y="404.4"/>
<use href="#o" x="263.9" y="403.2"/>
<use href="#o" x="250.1" y="354.4"/>
<use href="#o" x="260.2" y="350.5"/>
<use href="#o" x="273.4" y="388.3"/>
<use href="#o" x="269.8" y="400.0"/>
<use href="#o" x="264.7" y="389.8"/>
<use href="#o" x="253.6" y="390.6"/>
<use href="#o" x="240.1" y="399.5"/>
<use href="#o" x="249.1" y="406.7"/>
<use href="#o" x="235.5" y="376.5"/>
<use href="#o" x="247.5" y="357.1"/>
<use href="#o" x="254.9" y="358.6"/>
<use href="#o" x="242.0" y="364.6"/>
<use href="#o" x="273.4" y="383.1"/>
<use href="#o" x="268.1" y="389.4"/>
<use href="#o" x="269.4" y="376.9"/>
<use href="#o" x="243.6" y="385.1"/>
<use href="#o" x="227.2" y="394.4"/>
<use href="#o" x="272.6" y="363.0"/>
<use href="#o" x="247.5" y="386.7"/>
<use href="#o" x="259.9" y="396.7"/>
<use href="#o" x="203.7" y="403.1"/>
<use href="#o" x="251.0" y="374.8"/>
<use href="#o" x="228.8" y="351.1"/>
<use href="#o" x="223.9" y="342.7"/>
<use href="#o" x="277.1" y="370.4"/>
<use href="#o" x="276.8" y="366.5"/>
<use href="#o" x="251.6" y="383.1"/>
<use href="#o" x="228.4" y="391.7"/>
<use href="#o" x="223.0" y="378.2"/>
<use href="#o" x="220.4" y="385.7"/>
<use href="#o" x="222.3" y="381.5"/>
<use href="#o" x="280.5" y="376.4"/>
<use href="#o" x="243.2" y="350.2"/>
<use href="#o" x="272.5" y="371.2"/>
<use href="#o" x="250.9" y="404.0"/>
<use href="#o" x="253.6" y="403.6"/>
<use href="#o" x="233.8" y="390.3"/>
<use href="#o" x="237.9" y="344.8"/>
<use href="#o" x="248.3" y="385.1"/>
<use href="#o" x="220.9" y="401.4"/>
<use href="#o" x="257.7" y="347.7"/>
<use href="#o" x="256.0" y="366.8"/>
<use href="#o" x="241.9" y="386.6"/>
<use href="#o" x="239.9" y="345.6"/>
<use href="#o" x="232.5" y="399.6"/>
<use href="#o" x="248.3" y="397.5"/>
<use href="#o" x="266.3" y="381.4"/>
<use href="#o" x="245.2" y="404.4"/>
<use href="#o" x="237.7" y="359.5"/>
<use href="#o" x="221.5" y="386.7"/>
<use href="#o" x="249.0" y="374.0"/>
<use href="#o" x="241.1" y="372.3"/>
<use href="#o" x="248.8" y="346.1"/>
<use href="#o" x="236.9" y="388.2"/>
<use href="#o" x="253.1" y="394.2"/>
<use href="#o" x="221.3" y="397.3"/>
<use href="#o" x="226.7" y="374.2"/>
<use href="#o" x="240.7" y="371.2"/>
<use href="#o" x="255.5" y="395.3"/>
<use href="#o" x="248.2" y="364.4"/>
<use href="#o" x="280.6" y="379.3"/>
<use href="#o" x="237.0" y="346.2"/>
<use href="#o" x="267.6" y="377.8"/>
<use href="#o" x="250.3" y="382.5"/>
<use href="#o" x="245.9" y="370.8"/>
<use href="#o" x="233.7" y="382.3"/>
<use href="#o" x="263.6" y="364.0"/>
<use href="#o" x="250.0" y="357.0"/>
<use href="#o" x="248.0" y="358.3"/>
<use href="#o" x="244.8" y="371.1"/>
<use href="#o" x="219.3" y="388.9"/>
<use href="#o" x="217.9" y="408.1"/>
<use href="#o" x="240.5" y="400.6"/>
<use href="#o" x="272.0" y="353.3"/>
<use href="#o" x="232.5" y="343.5"/>
<use href="#o" x="253.7" y="380.2"/>
<use href="#o" x="268.9" y="389.9"/>
<use href="#o" x="255.8" y="349.7"/>
<use href="#o" x="261.9" y="376.8"/>
<use href="#o" x="248.4" y="349.8"/>
<use href="#o" x="260.3" y="354.6"/>
<use href="#o" x="239.7" y="356.2"/>
<use href="#o" x="245.9" y="334.8"/>
<use href="#o" x="237.6" y="348.6"/>
<use href="#o" x="269.8" y="369.5"/>
<use href="#o" x="234.1" y="359.6"/>
<use href="#o" x="225.2" y="342.6"/>
<use href="#o" x="234.8" y="379.2"/>
<use href="#o" x="242.5" y="344.7"/>
<use href="#o" x="235.5" y="353.5"/>
<use href="#o" x="232.5" y="372.0"/>
<use href="#o" x="246.1" y="372.4"/>
<use href="#o" x="262.0" y="337.3"/>
<use href="#o" x="229.2" y="370.8"/>
<use href="#o" x="240.1" y="365.0"/>
<use href="#o" x="229.9" y="358.1"/>
<use href="#o" x="245.1" y="335.4"/>
<use href="#o" x="225.1" y="353.7"/>
<use href="#o" x="248.6" y="357.9"/>
<use href="#o" x="225.4" y="353.7"/>
<use href="#o" x="239.2" y="368.2"/>
<use href="#o" x="243.0" y="361.4"/>
<use href="#o" x="259.5" y="355.4"/>
<use href="#o" x="255.3" y="342.9"/>
<use href="#o" x="248.7" y="374.2"/>
<use href="#o" x="247.4" y="368.9"/>
<use href="#o" x="252.3" y="349.5"/>
<use href="#o" x="243.8" y="378.1"/>
<use href="#o" x="265.9" y="348.2"/>
<use href="#o" x="241.3" y="357.1"/>
<use href="#o" x="248.8" y="340.3"/>
<use href="#o" x="242.1" y="333.8"/>
<use href="#o" x="248.9" y="356.0"/>
<use href="#o" x="236.2" y="372.8"/>
<use href="#o" x="243.5" y="363.5"/>
<use href="#o" x="229.9" y="351.4"/>
<use href="#o" x="259.8" y="347.1"/>
<use href="#o" x="263.7" y="358.4"/>
<use href="#o" x="231.2" y="335.5"/>
<use href="#o" x="225.3" y="363.5"/>
<use href="#o" x="235.5" y="348.1"/>
<use href="#o" x="247.1" y="367.2"/>
<use href="#o" x="269.1" y="365.2"/>
<use href="#o" x="231.7" y="346.5"/>
<use href="#o" x="235.2" y="343.2"/>
<use href="#o" x="226.0" y="377.1"/>
<use href="#o" x="272.4" y="359.1"/>
<use href="#o" x="269.0" y="347.4"/>
<use href="#o" x="230.9" y="359.4"/>
<use href="#o" x="259.1" y="351.8"/>
<use href="#o" x="265.6" y="347.7"/>
<use href="#o" x="271.8" y="354.0"/>
<use href="#o" x="266.8" y="369.6"/>
<use href="#o" x="231.6" y="332.4"/>
<use href="#o" x="243.3" y="373.4"/>
<use href="#o" x="246.1" y="367.8"/>
<use href="#o" x="234.9" y="380.2"/>
<use href="#o" x="240.8" y="341.3"/>
<use href="#o" x="225.8" y="341.6"/>
<use href="#o" x="229.1" y="339.2"/>
<use href="#o" x="267.1" y="349.0"/>
<use href="#o" x="256.4" y="347.8"/>
<use href="#o" x="237.3" y="376.5"/>
<use href="#o" x="247.0" y="373.6"/>
<use href="#o" x="244.5" y="368.3"/>
<use href="#o" x="227.6" y="351.1"/>
<use href="#o" x="252.4" y="359.4"/>
<use href="#o" x="241.3" y="351.5"/>
<use href="#o" x="244.2" y="353.7"/>
<use href="#o" x="269.7" y="356.3"/>
<use href="#o" x="263.7" y="375.1"/>
<use href="#o" x="243.4" y="352.1"/>
<use href="#o" x="245.6" y="379.5"/>
<use href="#o" x="253.1" y="359.0"/>
<use href="#o" x="254.2" y="358.7"/>
<use href="#o" x="260.6" y="356.2"/>
<use href="#o" x="262.7" y="344.1"/>
<use href="#o" x="238.8" y="352.0"/>
<use href="#o" x="270.5" y="370.5"/>
<use href="#o" x="269.0" y="344.7"/>
<use href="#o" x="242.5" y="334.0"/>
<use href="#o" x="253.0" y="337.1"/>
<use href="#o" x="240.4" y="350.6"/>
<use href="#o" x="230.8" y="359.8"/>
<use href="#o" x="258.4" y="371.1"/>
<use href="#o" x="248.5" y="356.5"/>
<use href="#o" x="244.4" y="347.0"/>
<use href="#o" x="232.8" y="370.7"/>
<use href="#o" x="264.7" y="348.6"/>
<use href="#o" x="239.9" y="349.1"/>
<use href="#o" x="267.9" y="364.9"/>
<use href="#o" x="223.5" y="347.2"/>
<use href="#o" x="231.8" y="337.4"/>
<use href="#o" x="232.1" y="376.7"/>
<use href="#o" x="227.2" y="378.3"/>
<use href="#o" x="248.6" y="354.2"/>
<use href="#o" x="265.0" y="350.8"/>
<use href="#o" x="231.4" y="353.5"/>
<use href="#o" x="254.7" y="375.6"/>
<use href="#o" x="249.6" y="358.1"/>
<use href="#o" x="229.9" y="341.7"/>
<use href="#o" x="266.8" y="356.9"/>
<use href="#o" x="263.4" y="360.1"/>
<use href="#o" x="243.6" y="366.7"/>
<use href="#o" x="231.8" y="341.5"/>
<use href="#o" x="254.8" y="376.0"/>
<use href="#o" x="249.2" y="340.3"/>
<use href="#o" x="238.5" y="367.4"/>
<use href="#o" x="246.8" y="350.6"/>
<use href="#o" x="250.4" y="357.5"/>
<use href="#o" x="244.7" y="354.0"/>
<use href="#o" x="249.9" y="364.1"/>
<use href="#o" x="240.7" y="375.2"/>
<use href="#o" x="272.7" y="354.3"/>
<use href="#o" x="230.6" y="345.9"/>
<use href="#o" x="233.6" y="354.0"/>
<use href="#o" x="242.9" y="344.4"/>
<use href="#o" x="245.2" y="340.8"/>
<use href="#o" x="255.0" y="364.6"/>
<use href="#o" x="246.4" y="342.3"/>
<use href="#o" x="226.7" y="376.1"/>
<use href="#o" x="240.0" y="371.0"/>
<use href="#o" x="230.9" y="377.9"/>
<use href="#o" x="269.7" y="358.0"/>
<use href="#o" x="240.3" y="344.7"/>
<use href="#o" x="240.4" y="375.2"/>
<use href="#o" x="236.7" y="337.6"/>
<use href="#o" x="254.6" y="346.6"/>
<use href="#o" x="249.5" y="365.1"/>
<use href="#o" x="272.8" y="352.4"/>
<use href="#o" x="229.7" y="380.8"/>
<use href="#o" x="262.0" y="348.0"/>
<use href="#o" x="246.0" y="355.9"/>
<use href="#o" x="255.1" y="354.1"/>
<use href="#o" x="226.6" y="333.8"/>
<use href="#o" x="259.2" y="351.7"/>
<use href="#o" x="233.8" y="349.2"/>
<use href="#o" x="247.7" y="369.3"/>
<use href="#o" x="243.6" y="374.1"/>
<use href="#o" x="211.9" y="298.1"/>
<use href="#o" x="209.2" y="258.6"/>
<use href="#o" x="217.6" y="309.9"/>
<use href="#o" x="201.5" y="294.7"/>
<use href="#o" x="214.2" y="299.8"/>
<use href="#o" x="217.0" y="309.9"/>
<use href="#o" x="205.6" y="283.4"/>
<use href="#o" x="203.9" y="253.2"/>
<use href="#o" x="210.4" y="263.3"/>
<use href="#o" x="213.2" y="307.1"/>
<use href="#o" x="208.8" y="300.0"/>
<use href="#o" x="207.4" y="262.3"/>
<use href="#o" x="199.4" y="280.8"/>
<use href="#o" x="209.9" y="287.2"/>
<use href="#o" x="211.8" y="255.5"/>
<use href="#o" x="207.5" y="274.4"/>
<use href="#o" x="214.7" y="282.2"/>
<use href="#o" x="213.1" y="315.7"/>
<use href="#o" x="208.7" y="306.2"/>
<use href="#o" x="210.7" y="319.0"/>
<use href="#o" x="208.4" y="263.4"/>
<use href="#o" x="199.7" y="272.0"/>
<use href="#o" x="208.8" y="248.2"/>
<use href="#o" x="201.7" y="252.6"/>
<use href="#o" x="198.9" y="250.5"/>
<use href="#o" x="218.2" y="309.4"/>
<use href="#o" x="208.9" y="270.4"/>
<use href="#o" x="207.4" y="272.4"/>
<use href="#o" x="213.8" y="289.1"/>
<use href="#o" x="203.3" y="285.0"/>
<use href="#o" x="201.1" y="298.1"/>
<use href="#o" x="213.5" y="297.6"/>
<use href="#o" x="207.3" y="289.5"/>
<use href="#o" x="210.4" y="318.2"/>
<use href="#o" x="214.9" y="311.1"/>
<use href="#o" x="202.3" y="274.3"/>
<use href="#o" x="215.4" y="263.3"/>
<use href="#o" x="212.3" y="313.1"/>
<use href="#o" x="204.2" y="309.1"/>
<use href="#o" x="209.9" y="279.2"/>
<use href="#o" x="201.8" y="264.9"/>
<use href="#o" x="212.0" y="262.5"/>
<use href="#o" x="206.6" y="288.4"/>
<use href="#o" x="212.0" y="320.3"/>
<use href="#o" x="203.9" y="246.4"/>
<use href="#o" x="211.8" y="262.8"/>
<use href="#o" x="216.0" y="294.3"/>
<use href="#o" x="208.1" y="290.6"/>
<use href="#o" x="209.5" y="252.3"/>
<use href="#o" x="205.7" y="270.9"/>
<use href="#o" x="198.6" y="268.2"/>
<use href="#o" x="198.5" y="254.2"/>
<use href="#o" x="212.4" y="279.1"/>
<use href="#o" x="210.6" y="254.7"/>
<use href="#o" x="208.6" y="321.6"/>
<use href="#o" x="202.8" y="301.4"/>
<use href="#o" x="215.1" y="301.2"/>
<use href="#o" x="208.9" y="258.8"/>
<use href="#o" x="213.7" y="316.5"/>
<use href="#o" x="211.1" y="286.9"/>
<use href="#o" x="203.5" y="246.2"/>
<use href="#o" x="218.3" y="321.4"/>
<use href="#o" x="211.3" y="251.0"/>
<use href="#o" x="210.9" y="299.3"/>
<use href="#o" x="210.7" y="283.7"/>
<use href="#o" x="206.3" y="286.7"/>
<use href="#o" x="208.2" y="308.2"/>
<use href="#o" x="208.0" y="246.6"/>
<use href="#o" x="218.1" y="312.5"/>
<use href="#o" x="206.6" y="274.3"/>
<use href="#o" x="224.3" y="320.2"/>
<use href="#o" x="226.5" y="317.6"/>
<use href="#o" x="219.3" y="296.2"/>
<use href="#o" x="224.5" y="287.3"/>
<use href="#o" x="218.0" y="310.7"/>
<use href="#o" x="237.3" y="296.1"/>
<use href="#o" x="228.2" y="234.4"/>
<use href="#o" x="235.9" y="264.0"/>
<use href="#o" x="208.8" y="253.2"/>
<use href="#o" x="216.8" y="242.3"/>
<use href="#o" x="223.9" y="317.4"/>
<use href="#o" x="228.8" y="269.3"/>
<use href="#o" x="219.3" y="314.4"/>
<use href="#o" x="233.6" y="284.2"/>
<use href="#o" x="231.6" y="314.8"/>
<use href="#o" x="216.0" y="289.9"/>
<use href="#o" x="223.3" y="263.2"/>
<use href="#o" x="237.5" y="289.6"/>
<use href="#o" x="216.5" y="309.9"/>
<use href="#o" x="237.7" y="248.9"/>
<use href="#o" x="242.0" y="283.7"/>
<use href="#o" x="238.5" y="293.2"/>
<use href="#o" x="223.3" y="234.2"/>
<use href="#o" x="210.0" y="236.6"/>
<use href="#o" x="240.9" y="277.3"/>
<use href="#o" x="212.6" y="264.3"/>
<use href="#o" x="214.0" y="259.3"/>
<use href="#o" x="220.0" y="276.0"/>
<use href="#o" x="224.2" y="325.9"/>
<use href="#o" x="219.3" y="252.4"/>
<use href="#o" x="239.7" y="250.5"/>
<use href="#o" x="229.0" y="297.9"/>
<use href="#o" x="242.5" y="268.9"/>
<use href="#o" x="230.2" y="266.7"/>
<use href="#o" x="240.6" y="321.6"/>
<use href="#o" x="206.2" y="234.0"/>
<use href="#o" x="234.2" y="295.4"/>
<use href="#o" x="229.0" y="328.0"/>
<use href="#o" x="220.1" y="292.7"/>
<use href="#o" x="238.0" y="277.2"/>
<use href="#o" x="222.2" y="317.0"/>
<use href="#o" x="218.1" y="298.7"/>
<use href="#o" x="212.1" y="301.5"/>
<use href="#o" x="237.8" y="261.1"/>
<use href="#o" x="227.1" y="237.6"/>
<use href="#o" x="225.9" y="318.8"/>
<use href="#o" x="229.0" y="245.5"/>
<use href="#o" x="230.7" y="262.3"/>
<use href="#o" x="237.3" y="256.6"/>
<use href="#o" x="230.8" y="297.7"/>
<use href="#o" x="232.7" y="292.0"/>
<use href="#o" x="222.1" y="269.8"/>
<use href="#o" x="226.3" y="314.1"/>
<use href="#o" x="220.3" y="294.6"/>
<use href="#o" x="220.6" y="238.1"/>
<use href="#o" x="224.4" y="275.3"/>
<use href="#o" x="230.5" y="292.2"/>
<use href="#o" x="232.1" y="318.9"/>
<use href="#o" x="232.6" y="242.0"/>
<use href="#o" x="228.2" y="262.5"/>
<use href="#o" x="228.7" y="286.7"/>
<use href="#o" x="238.1" y="245.4"/>
<use href="#o" x="228.1" y="273.4"/>
<use href="#o" x="212.8" y="269.2"/>
<use href="#o" x="226.4" y="263.1"/>
<use href="#o" x="238.8" y="299.2"/>
<use href="#o" x="221.8" y="318.8"/>
<use href="#o" x="220.9" y="264.3"/>
<use href="#o" x="231.6" y="243.8"/>
<use href="#o" x="213.6" y="284.8"/>
<use href="#o" x="223.4" y="285.4"/>
<use href="#o" x="239.5" y="315.9"/>
<use href="#o" x="212.6" y="232.3"/>
<use href="#o" x="225.8" y="288.4"/>
<use href="#o" x="232.1" y="307.5"/>
<use href="#o" x="243.4" y="272.0"/>
<use href="#o" x="221.3" y="249.8"/>
<use href="#o" x="214.0" y="278.6"/>
<use href="#o" x="209.0" y="242.3"/>
<use href="#o" x="228.2" y="299.3"/>
<use href="#o" x="229.3" y="284.0"/>
<use href="#o" x="226.6" y="258.6"/>
<use href="#o" x="239.0" y="254.5"/>
<use href="#o" x="218.9" y="299.6"/>
<use href="#o" x="230.5" y="273.0"/>
<use href="#o" x="239.1" y="289.3"/>
<use href="#o" x="234.5" y="256.0"/>
<use href="#o" x="240.3" y="273.4"/>
<use href="#o" x="223.6" y="281.6"/>
<use href="#o" x="228.1" y="259.0"/>
<use href="#o" x="273.6" y="97.6"/>
<use href="#o" x="299.6" y="88.2"/>
<use href="#o" x="315.0" y="89.6"/>
<use href="#o" x="173.6" y="200.0"/>
<use href="#o" x="181.0" y="216.4"/>
<use href="#o" x="160.0" y="232.0"/>
<use href="#o" x="165.0" y="234.0"/>
<use href="#o" x="188.0" y="228.0"/>
<use href="#o" x="251.0" y="146.6"/>
<use href="#o" x="260.0" y="155.4"/>
<use href="#o" x="311.0" y="144.0"/>
<use href="#o" x="238.6" y="165.4"/>
<use href="#o" x="231.0" y="176.0"/>
<use href="#o" x="243.2" y="175.0"/>
<use href="#o" x="200.6" y="181.6"/>
<use href="#o" x="215.2" y="180.6"/>
<use href="#o" x="222.6" y="186.4"/>
<use href="#o" x="245.6" y="187.4"/>
<use href="#o" x="243.8" y="195.8"/>
<use href="#o" x="254.2" y="195.8"/>
<use href="#o" x="206.4" y="198.0"/>
<use href="#o" x="216.4" y="200.6"/>
<use href="#o" x="221.6" y="197.4"/>
<use href="#o" x="244.0" y="204.0"/>
<use href="#o" x="247.6" y="204.0"/>
<use href="#o" x="193.4" y="204.6"/>
<use href="#o" x="197.4" y="204.6"/>
<use href="#o" x="204.6" y="209.0"/>
<use href="#o" x="206.4" y="214.4"/>
<use href="#o" x="196.0" y="214.0"/>
<use href="#o" x="229.6" y="209.0"/>
<use href="#o" x="234.0" y="211.6"/>
<use href="#o" x="236.0" y="217.4"/>
<use href="#o" x="235.0" y="221.0"/>
<use href="#o" x="216.4" y="219.0"/>
<use href="#o" x="227.6" y="223.6"/>
<use href="#o" x="236.6" y="228.0"/>
<use href="#o" x="241.0" y="233.0"/>
<use href="#o" x="265.0" y="235.0"/>
<use href="#o" x="213.0" y="225.4"/>
<use href="#o" x="211.0" y="229.0"/>
<use href="#o" x="201.0" y="229.4"/>
<use href="#o" x="205.0" y="231.0"/>
<use href="#o" x="192.0" y="232.0"/>
<use href="#o" x="223.0" y="218.0"/>
<use href="#o" x="249.0" y="231.0"/>
<use href="#o" x="345.2" y="211.2"/>
<use href="#o" x="420.6" y="286.0"/>
<use href="#o" x="422.6" y="309.4"/>
<use href="#o" x="415.0" y="319.4"/>
<use href="#o" x="442.6" y="314.0"/>
<use href="#o" x="479.8" y="305.8"/>
<use href="#o" x="504.6" y="294.6"/>
<use href="#o" x="354.8" y="242.6"/>
<use href="#o" x="382.6" y="242.6"/>
<use href="#o" x="314.6" y="252.6"/>
<use href="#o" x="316.2" y="262.0"/>
<use href="#o" x="274.0" y="261.6"/>
<use href="#o" x="279.6" y="274.6"/>
<use href="#o" x="296.6" y="275.0"/>
<use href="#o" x="323.0" y="279.0"/>
<use href="#o" x="300.0" y="281.6"/>
<use href="#o" x="302.0" y="284.4"/>
<use href="#o" x="292.0" y="286.6"/>
<use href="#o" x="349.0" y="288.8"/>
<use href="#o" x="274.0" y="294.0"/>
<use href="#o" x="288.4" y="295.2"/>
<use href="#o" x="297.4" y="294.6"/>
<use href="#o" x="302.0" y="292.0"/>
<use href="#o" x="302.0" y="294.6"/>
<use href="#o" x="289.2" y="300.0"/>
<use href="#o" x="316.8" y="298.4"/>
<use href="#o" x="366.0" y="298.4"/>
<use href="#o" x="368.4" y="298.4"/>
<use href="#o" x="290.4" y="308.0"/>
<use href="#o" x="316.4" y="308.8"/>
<use href="#o" x="280.0" y="312.6"/>
<use href="#o" x="293.0" y="315.0"/>
<use href="#o" x="384.4" y="313.6"/>
<use href="#o" x="399.4" y="318.0"/>
<use href="#o" x="400.0" y="320.6"/>
<use href="#o" x="288.6" y="323.0"/>
<use href="#o" x="289.0" y="327.0"/>
<use href="#o" x="323.2" y="326.6"/>
<use href="#o" x="332.6" y="328.4"/>
<use href="#o" x="324.0" y="331.0"/>
<use href="#o" x="367.4" y="331.0"/>
<use href="#o" x="304.6" y="331.0"/>
<use href="#o" x="306.0" y="334.0"/>
<use href="#o" x="310.0" y="334.6"/>
<use href="#o" x="278.0" y="336.6"/>
<use href="#o" x="282.4" y="337.0"/>
<use href="#o" x="300.6" y="337.4"/>
<use href="#o" x="304.6" y="339.0"/>
<use href="#o" x="313.0" y="338.0"/>
<use href="#o" x="319.0" y="336.6"/>
<use href="#o" x="323.0" y="335.4"/>
<use href="#o" x="321.4" y="339.0"/>
<use href="#o" x="326.4" y="337.0"/>
<use href="#o" x="333.0" y="339.0"/>
<use href="#o" x="377.0" y="339.6"/>
<use href="#o" x="400.6" y="342.0"/>
<use href="#o" x="295.0" y="343.0"/>
<use href="#o" x="313.0" y="342.0"/>
<use href="#o" x="413.4" y="360.4"/>
<use href="#o" x="473.2" y="360.4"/>
<use href="#o" x="441.4" y="371.6"/>
<use href="#o" x="449.0" y="375.6"/>
<use href="#o" x="463.4" y="373.0"/>
<use href="#o" x="468.4" y="370.6"/>
<use href="#o" x="468.0" y="376.0"/>
<use href="#o" x="417.6" y="381.6"/>
<use href="#o" x="421.4" y="402.0"/>
<use href="#o" x="473.0" y="400.8"/>
<use href="#o" x="318.4" y="400.4"/>
<use href="#o" x="332.0" y="397.0"/>
<use href="#o" x="356.0" y="398.0"/>
<use href="#o" x="374.0" y="403.6"/>
<use href="#o" x="381.4" y="403.0"/>
<use href="#o" x="390.0" y="398.0"/>
<use href="#o" x="390.6" y="405.0"/>
<use href="#o" x="333.4" y="408.4"/>
<use href="#o" x="305.4" y="407.4"/>
<use href="#o" x="292.4" y="408.4"/>
<use href="#o" x="286.0" y="412.4"/>
<use href="#o" x="311.0" y="414.0"/>
<use href="#o" x="322.4" y="417.0"/>
<use href="#o" x="321.4" y="421.4"/>
<use href="#o" x="336.6" y="420.4"/>
<use href="#o" x="279.0" y="418.0"/>
<use href="#o" x="275.0" y="412.0"/>
<use href="#o" x="386.6" y="414.6"/>
<use href="#o" x="323.6" y="428.0"/>
<use href="#o" x="318.0" y="430.4"/>
<use href="#o" x="330.6" y="430.4"/>
<use href="#o" x="276.4" y="434.4"/>
<use href="#o" x="297.4" y="434.4"/>
<use href="#o" x="379.6" y="439.4"/>
<use href="#o" x="282.0" y="405.0"/>
<use href="#o" x="278.0" y="399.0"/>
<use href="#o" x="286.0" y="399.0"/>
<use href="#o" x="306.0" y="401.0"/>
<use href="#o" x="302.0" y="398.0"/>
<use href="#o" x="383.8" y="348.4"/>
<use href="#o" x="344.6" y="351.4"/>
<use href="#o" x="359.0" y="356.0"/>
<use href="#o" x="374.0" y="353.0"/>
<use href="#o" x="377.0" y="357.4"/>
<use href="#o" x="342.0" y="358.0"/>
<use href="#o" x="342.0" y="362.0"/>
<use href="#o" x="343.4" y="368.0"/>
<use href="#o" x="364.0" y="363.6"/>
<use href="#o" x="369.6" y="364.0"/>
<use href="#o" x="361.0" y="368.0"/>
<use href="#o" x="366.6" y="369.0"/>
<use href="#o" x="361.0" y="371.0"/>
<use href="#o" x="385.4" y="366.4"/>
<use href="#o" x="399.6" y="372.0"/>
<use href="#o" x="404.0" y="374.6"/>
<use href="#o" x="400.4" y="379.4"/>
<use href="#o" x="366.4" y="378.0"/>
<use href="#o" x="382.4" y="379.0"/>
<use href="#o" x="387.2" y="380.4"/>
<use href="#o" x="360.0" y="382.4"/>
<use href="#o" x="344.0" y="383.4"/>
<use href="#o" x="349.4" y="389.4"/>
<use href="#o" x="349.4" y="391.4"/>
<use href="#o" x="360.0" y="388.6"/>
<use href="#o" x="375.0" y="387.0"/>
<use href="#o" x="376.6" y="393.6"/>
<use href="#o" x="238.5" y="241.5"/>
<use href="#o" x="191.4" y="232.9"/>
<use href="#o" x="189.2" y="235.1"/>
<use href="#o" x="158.1" y="240.3"/>
<use href="#o" x="150.0" y="250.0"/>
<use href="#o" x="213.6" y="230.0"/>
<use href="#o" x="157.6" y="240.0"/>
<use href="#o" x="164.6" y="236.0"/>
<use href="#o" x="150.0" y="249.6"/>
<use href="#o" x="140.0" y="253.6"/>
<use href="#o" x="130.0" y="273.6"/>
<use href="#o" x="82.6" y="314.6"/>
<use href="#o" x="97.0" y="317.0"/>
<use href="#o" x="97.6" y="320.0"/>
<use href="#o" x="102.0" y="319.6"/>
<use href="#o" x="99.6" y="327.4"/>
<use href="#o" x="106.0" y="328.0"/>
<use href="#o" x="110.0" y="333.0"/>
<use href="#o" x="103.6" y="341.0"/>
<use href="#o" x="108.0" y="318.0"/>
<use href="#o" x="120.0" y="304.0"/>
<use href="#o" x="122.0" y="297.0"/>
<use href="#o" x="127.0" y="287.0"/>
<use href="#o" x="268.6" y="247.6"/>
<use href="#o" x="252.4" y="254.0"/>
<use href="#o" x="272.6" y="261.0"/>
<use href="#o" x="246.4" y="272.6"/>
<use href="#o" x="239.0" y="267.0"/>
<use href="#o" x="259.0" y="283.6"/>
<use href="#o" x="266.0" y="288.0"/>
<use href="#o" x="262.4" y="294.4"/>
<use href="#o" x="266.0" y="298.6"/>
<use href="#o" x="243.6" y="283.0"/>
<use href="#o" x="248.0" y="300.0"/>
<use href="#o" x="248.0" y="306.0"/>
<use href="#o" x="253.0" y="309.0"/>
<use href="#o" x="259.0" y="310.0"/>
<use href="#o" x="256.0" y="320.0"/>
<use href="#o" x="244.0" y="322.0"/>
<use href="#o" x="246.0" y="326.0"/>
<use href="#o" x="254.0" y="329.0"/>
<use href="#o" x="242.0" y="298.0"/>
<use href="#o" x="240.0" y="309.0"/>
<use href="#o" x="239.0" y="316.0"/>
<use href="#o" x="232.0" y="316.0"/>
<use href="#o" x="237.0" y="318.0"/>
<use href="#o" x="265.0" y="316.0"/>
<use href="#o" x="266.0" y="335.0"/>
<use href="#o" x="269.0" y="334.0"/>
<use href="#o" x="119.0" y="402.0"/>
<use href="#o" x="126.0" y="394.4"/>
<use href="#o" x="120.0" y="386.0"/>
<use href="#o" x="124.0" y="384.0"/>
<use href="#o" x="141.0" y="412.0"/>
<use href="#o" x="180.0" y="411.0"/>
<use href="#o" x="189.0" y="412.0"/>
<use href="#o" x="207.0" y="418.0"/>
<use href="#o" x="206.0" y="427.0"/>
<use href="#o" x="210.0" y="413.0"/>
<use href="#o" x="214.0" y="417.0"/>
<use href="#o" x="218.0" y="414.0"/>
<use href="#o" x="222.0" y="428.0"/>
<use href="#o" x="226.0" y="404.0"/>
<use href="#o" x="107.3" y="319.2"/>
<use href="#o" x="110.0" y="342.9"/>
<use href="#o" x="114.4" y="345.9"/>
<use href="#o" x="114.4" y="338.8"/>
<use href="#o" x="119.0" y="311.0"/>
<use href="#o" x="125.7" y="310.4"/>
<use href="#o" x="122.3" y="353.3"/>
<use href="#o" x="124.3" y="361.4"/>
<use href="#o" x="125.7" y="366.6"/>
<use href="#o" x="254.4" y="330.0"/>
<use href="#o" x="267.8" y="333.7"/>
<use href="#o" x="270.7" y="338.9"/>
<use href="#o" x="277.4" y="336.7"/>
<use href="#o" x="282.5" y="336.7"/>
<use href="#o" x="301.0" y="337.4"/>
<use href="#o" x="304.7" y="332.2"/>
<use href="#o" x="310.7" y="334.4"/>
<use href="#o" x="313.6" y="341.1"/>
<use href="#o" x="319.5" y="336.7"/>
<use href="#o" x="324.0" y="336.7"/>
<use href="#o" x="324.0" y="330.7"/>
<use href="#o" x="304.7" y="339.6"/>
<use href="#o" x="274.4" y="347.8"/>
<use href="#o" x="284.0" y="349.2"/>
<use href="#o" x="290.0" y="346.3"/>
<use href="#o" x="294.4" y="344.0"/>
<use href="#o" x="284.0" y="352.2"/>
<use href="#o" x="310.7" y="348.5"/>
<use href="#o" x="316.6" y="350.7"/>
<use href="#o" x="322.5" y="344.8"/>
<use href="#o" x="323.2" y="350.7"/>
<use href="#o" x="338.8" y="350.0"/>
<use href="#o" x="344.7" y="351.4"/>
<use href="#o" x="272.2" y="356.6"/>
<use href="#o" x="278.0" y="361.8"/>
<use href="#o" x="287.0" y="359.6"/>
<use href="#o" x="297.3" y="361.0"/>
<use href="#o" x="306.2" y="358.1"/>
<use href="#o" x="312.0" y="356.6"/>
<use href="#o" x="315.0" y="361.0"/>
<use href="#o" x="319.5" y="364.0"/>
<use href="#o" x="325.4" y="358.1"/>
<use href="#o" x="332.1" y="358.8"/>
<use href="#o" x="338.8" y="356.6"/>
<use href="#o" x="341.7" y="361.8"/>
<use href="#o" x="338.8" y="366.2"/>
<use href="#o" x="343.2" y="367.7"/>
<use href="#o" x="281.8" y="369.2"/>
<use href="#o" x="288.5" y="367.7"/>
<use href="#o" x="294.4" y="367.0"/>
<use href="#o" x="303.3" y="369.2"/>
<use href="#o" x="310.7" y="367.0"/>
<use href="#o" x="315.0" y="372.9"/>
<use href="#o" x="322.5" y="375.1"/>
<use href="#o" x="332.8" y="377.3"/>
<use href="#o" x="276.6" y="371.4"/>
<use href="#o" x="284.0" y="377.3"/>
<use href="#o" x="287.0" y="381.0"/>
<use href="#o" x="294.4" y="377.3"/>
<use href="#o" x="298.8" y="379.6"/>
<use href="#o" x="306.2" y="382.5"/>
<use href="#o" x="312.0" y="378.8"/>
<use href="#o" x="313.6" y="382.5"/>
<use href="#o" x="289.2" y="387.7"/>
<use href="#o" x="307.7" y="390.7"/>
<use href="#o" x="321.0" y="386.2"/>
<use href="#o" x="323.2" y="392.0"/>
<use href="#o" x="319.5" y="399.5"/>
<use href="#o" x="331.4" y="395.0"/>
<use href="#o" x="335.0" y="390.7"/>
<use href="#o" x="340.2" y="392.0"/>
<use href="#o" x="347.6" y="390.0"/>
<use href="#o" x="267.8" y="396.6"/>
<use href="#o" x="279.6" y="393.6"/>
<use href="#o" x="284.0" y="396.6"/>
<use href="#o" x="264.0" y="404.0"/>
<use href="#o" x="291.4" y="407.0"/>
<use href="#o" x="297.3" y="396.6"/>
<use href="#o" x="303.3" y="395.0"/>
<use href="#o" x="256.0" y="407.0"/>
<use href="#o" x="250.0" y="401.0"/>
<use href="#o" x="275.0" y="389.0"/>
<use href="#o" x="270.7" y="392.0"/>
<use href="#o" x="208.8" y="423.8"/>
<use href="#o" x="218.5" y="409.8"/>
<use href="#o" x="224.4" y="414.2"/>
<use href="#o" x="231.8" y="405.4"/>
<use href="#o" x="230.3" y="409.8"/>
<use href="#o" x="234.7" y="406.8"/>
<use href="#o" x="237.7" y="409.8"/>
<use href="#o" x="233.3" y="414.2"/>
<use href="#o" x="236.2" y="412.8"/>
<use href="#o" x="233.3" y="396.5"/>
<use href="#o" x="238.4" y="396.5"/>
<use href="#o" x="238.4" y="400.2"/>
<use href="#o" x="244.3" y="402.4"/>
<use href="#o" x="250.3" y="403.9"/>
<use href="#o" x="251.0" y="408.3"/>
<use href="#o" x="251.0" y="412.0"/>
<use href="#o" x="256.2" y="409.0"/>
<use href="#o" x="246.6" y="416.4"/>
<use href="#o" x="249.5" y="420.1"/>
<use href="#o" x="237.7" y="421.6"/>
<use href="#o" x="236.2" y="426.1"/>
<use href="#o" x="246.6" y="426.4"/>
<use href="#o" x="244.6" y="434.5"/>
<use href="#o" x="261.4" y="429.3"/>
<use href="#o" x="264.0" y="436.4"/>
<use href="#o" x="271.7" y="412.8"/>
<use href="#o" x="272.5" y="415.0"/>
<use href="#o" x="152.3" y="257.8"/>
<use href="#x" x="143.8" y="313.6"/>
<use href="#x" x="132.0" y="346.0"/>
<use href="#x" x="179.6" y="322.6"/>
<use href="#x" x="127.0" y="295.9"/>
<use href="#x" x="177.5" y="374.1"/>
<use href="#x" x="181.4" y="398.8"/>
<use href="#x" x="167.1" y="389.1"/>
<use href="#x" x="182.7" y="330.3"/>
<use href="#x" x="144.5" y="333.2"/>
<use href="#x" x="159.1" y="334.0"/>
<use href="#x" x="169.0" y="360.2"/>
<use href="#x" x="175.8" y="339.6"/>
<use href="#x" x="158.8" y="399.7"/>
<use href="#x" x="185.8" y="354.3"/>
<use href="#x" x="159.4" y="399.4"/>
<use href="#x" x="146.7" y="306.5"/>
<use href="#x" x="145.0" y="297.1"/>
<use href="#x" x="186.2" y="395.7"/>
<use href="#x" x="155.5" y="372.3"/>
<use href="#x" x="162.6" y="304.0"/>
<use href="#x" x="117.8" y="339.2"/>
<use href="#x" x="152.2" y="296.9"/>
<use href="#x" x="146.5" y="315.9"/>
<use href="#x" x="141.0" y="333.6"/>
<use href="#x" x="128.8" y="331.5"/>
<use href="#x" x="156.3" y="360.7"/>
<use href="#x" x="144.9" y="289.3"/>
<use href="#x" x="137.5" y="348.0"/>
<use href="#x" x="136.4" y="297.5"/>
<use href="#x" x="195.6" y="385.1"/>
<use href="#x" x="137.9" y="375.3"/>
<use href="#x" x="118.5" y="346.7"/>
<use href="#x" x="180.0" y="347.8"/>
<use href="#x" x="126.3" y="367.4"/>
<use href="#x" x="168.4" y="316.7"/>
<use href="#x" x="126.2" y="382.8"/>
<use href="#x" x="129.7" y="376.8"/>
<use href="#x" x="144.6" y="309.5"/>
<use href="#x" x="168.8" y="377.6"/>
<use href="#x" x="153.8" y="395.2"/>
<use href="#x" x="185.6" y="381.9"/>
<use href="#x" x="151.7" y="302.9"/>
<use href="#x" x="180.2" y="341.5"/>
<use href="#x" x="177.4" y="386.2"/>
<use href="#x" x="156.8" y="299.0"/>
<use href="#x" x="138.8" y="309.6"/>
<use href="#x" x="184.3" y="380.1"/>
<use href="#x" x="167.8" y="332.9"/>
<use href="#x" x="117.3" y="329.1"/>
<use href="#x" x="131.7" y="297.3"/>
<use href="#x" x="168.8" y="309.6"/>
<use href="#x" x="153.3" y="309.4"/>
<use href="#x" x="153.7" y="391.7"/>
<use href="#x" x="159.4" y="345.6"/>
<use href="#x" x="151.1" y="363.0"/>
<use href="#x" x="161.0" y="340.0"/>
<use href="#x" x="156.4" y="294.2"/>
<use href="#x" x="173.9" y="368.3"/>
<use href="#x" x="147.1" y="346.4"/>
<use href="#x" x="174.6" y="388.3"/>
<use href="#x" x="126.3" y="334.0"/>
<use href="#x" x="158.3" y="339.8"/>
<use href="#x" x="127.1" y="321.3"/>
<use href="#x" x="139.9" y="310.2"/>
<use href="#x" x="186.7" y="381.7"/>
<use href="#x" x="152.8" y="394.2"/>
<use href="#x" x="126.1" y="298.5"/>
<use href="#x" x="175.4" y="363.1"/>
<use href="#x" x="190.3" y="362.1"/>
<use href="#x" x="130.6" y="379.9"/>
<use href="#x" x="120.3" y="309.6"/>
<use href="#x" x="131.9" y="376.7"/>
<use href="#x" x="147.1" y="366.4"/>
<use href="#x" x="177.4" y="376.3"/>
<use href="#x" x="157.5" y="298.1"/>
<use href="#x" x="138.9" y="342.7"/>
<use href="#x" x="162.3" y="350.4"/>
<use href="#x" x="122.1" y="364.2"/>
<use href="#x" x="153.2" y="333.5"/>
<use href="#x" x="184.3" y="336.6"/>
<use href="#x" x="149.7" y="345.6"/>
<use href="#x" x="185.7" y="383.0"/>
<use href="#x" x="191.0" y="356.8"/>
<use href="#x" x="160.4" y="398.8"/>
<use href="#x" x="179.3" y="328.1"/>
<use href="#x" x="125.2" y="361.2"/>
<use href="#x" x="175.8" y="351.4"/>
<use href="#x" x="145.7" y="331.5"/>
<use href="#x" x="180.2" y="340.7"/>
<use href="#x" x="175.7" y="386.7"/>
<use href="#x" x="149.4" y="308.1"/>
<use href="#x" x="187.4" y="386.8"/>
<use href="#x" x="154.1" y="354.6"/>
<use href="#x" x="157.9" y="384.2"/>
<use href="#x" x="171.5" y="354.3"/>
<use href="#x" x="173.1" y="351.7"/>
<use href="#x" x="161.3" y="357.6"/>
<use href="#x" x="133.2" y="346.0"/>
<use href="#x" x="135.6" y="303.6"/>
<use href="#x" x="130.5" y="343.6"/>
<use href="#x" x="166.1" y="325.9"/>
<use href="#x" x="168.4" y="371.0"/>
<use href="#x" x="171.6" y="325.6"/>
<use href="#x" x="127.0" y="373.6"/>
<use href="#x" x="149.2" y="397.3"/>
<use href="#x" x="135.0" y="294.5"/>
<use href="#x" x="149.8" y="293.8"/>
<use href="#x" x="165.2" y="351.8"/>
<use href="#x" x="168.6" y="358.2"/>
<use href="#x" x="146.5" y="339.9"/>
<use href="#x" x="141.3" y="321.9"/>
<use href="#x" x="182.5" y="342.2"/>
<use href="#x" x="174.2" y="371.2"/>
<use href="#x" x="141.9" y="333.3"/>
<use href="#x" x="151.1" y="302.8"/>
<use href="#x" x="186.1" y="362.4"/>
<use href="#x" x="129.6" y="358.6"/>
<use href="#x" x="124.2" y="371.4"/>
<use href="#x" x="178.2" y="379.5"/>
<use href="#x" x="166.6" y="363.9"/>
<use href="#x" x="188.7" y="365.3"/>
<use href="#x" x="185.2" y="336.6"/>
<use href="#x" x="120.1" y="338.2"/>
<use href="#x" x="171.8" y="398.8"/>
<use href="#x" x="165.3" y="395.3"/>
<use href="#x" x="147.7" y="288.4"/>
<use href="#x" x="183.3" y="376.4"/>
<use href="#x" x="148.9" y="318.9"/>
<use href="#x" x="174.7" y="391.7"/>
<use href="#x" x="144.0" y="314.1"/>
<use href="#x" x="158.3" y="334.4"/>
<use href="#x" x="147.4" y="325.1"/>
<use href="#x" x="173.9" y="332.3"/>
<use href="#x" x="148.1" y="302.8"/>
<use href="#x" x="169.0" y="363.5"/>
<use href="#x" x="171.2" y="331.0"/>
<use href="#x" x="137.2" y="369.7"/>
<use href="#x" x="181.4" y="377.5"/>
<use href="#x" x="155.0" y="301.5"/>
<use href="#x" x="156.8" y="375.2"/>
<use href="#x" x="215.6" y="312.0"/>
<use href="#x" x="208.2" y="312.9"/>
<use href="#x" x="201.2" y="290.2"/>
<use href="#x" x="189.0" y="265.5"/>
<use href="#x" x="188.4" y="257.0"/>
<use href="#x" x="220.1" y="321.1"/>
<use href="#x" x="201.2" y="320.2"/>
<use href="#x" x="179.1" y="260.5"/>
<use href="#x" x="167.9" y="275.4"/>
<use href="#x" x="209.5" y="264.0"/>
<use href="#x" x="192.8" y="403.1"/>
<use href="#x" x="185.6" y="391.9"/>
<use href="#x" x="198.5" y="397.2"/>
<use href="#x" x="206.9" y="386.6"/>
<use href="#x" x="176.5" y="375.5"/>
<use href="#x" x="185.1" y="370.0"/>
<use href="#x" x="177.9" y="361.8"/>
<use href="#x" x="177.7" y="364.7"/>
<use href="#x" x="181.2" y="375.7"/>
<use href="#x" x="206.7" y="366.6"/>
<use href="#x" x="181.0" y="371.2"/>
<use href="#x" x="181.2" y="397.3"/>
<use href="#x" x="189.6" y="380.2"/>
<use href="#x" x="185.6" y="400.5"/>
<use href="#x" x="189.6" y="380.6"/>
<use href="#x" x="194.6" y="390.3"/>
<use href="#x" x="198.4" y="401.0"/>
<use href="#x" x="195.1" y="378.7"/>
<use href="#x" x="186.3" y="384.4"/>
<use href="#x" x="181.7" y="366.5"/>
<use href="#x" x="174.4" y="382.5"/>
<use href="#x" x="184.7" y="394.7"/>
<use href="#x" x="191.4" y="380.8"/>
<use href="#x" x="193.5" y="400.9"/>
<use href="#x" x="207.6" y="392.8"/>
<use href="#x" x="176.1" y="394.9"/>
<use href="#x" x="182.6" y="363.8"/>
<use href="#x" x="174.1" y="367.1"/>
<use href="#x" x="189.3" y="388.5"/>
<use href="#x" x="181.8" y="400.5"/>
<use href="#x" x="232.1" y="368.2"/>
<use href="#x" x="226.3" y="370.4"/>
<use href="#x" x="250.2" y="388.6"/>
<use href="#x" x="267.1" y="351.3"/>
<use href="#x" x="226.9" y="350.6"/>
<use href="#x" x="254.7" y="379.8"/>
<use href="#x" x="231.0" y="384.3"/>
<use href="#x" x="254.0" y="366.8"/>
<use href="#x" x="250.6" y="346.3"/>
<use href="#x" x="255.4" y="398.2"/>
<use href="#x" x="229.7" y="380.9"/>
<use href="#x" x="247.6" y="386.2"/>
<use href="#x" x="246.0" y="386.8"/>
<use href="#x" x="247.4" y="356.6"/>
<use href="#x" x="206.5" y="329.7"/>
<use href="#x" x="191.6" y="284.8"/>
<use href="#x" x="198.2" y="289.5"/>
<use href="#x" x="198.3" y="322.3"/>
<use href="#x" x="200.8" y="309.3"/>
<use href="#x" x="188.1" y="307.7"/>
<use href="#x" x="210.0" y="301.4"/>
<use href="#x" x="185.7" y="310.6"/>
<use href="#x" x="202.3" y="296.6"/>
<use href="#x" x="207.7" y="288.6"/>
<use href="#x" x="200.7" y="332.8"/>
<use href="#x" x="189.7" y="305.1"/>
<use href="#x" x="204.2" y="313.0"/>
<use href="#x" x="191.0" y="283.7"/>
<use href="#x" x="206.8" y="313.0"/>
<use href="#x" x="191.3" y="310.7"/>
<use href="#x" x="190.1" y="288.1"/>
<use href="#x" x="199.8" y="336.0"/>
<use href="#x" x="184.4" y="290.4"/>
<use href="#x" x="204.9" y="322.4"/>
<use href="#x" x="212.8" y="330.6"/>
<use href="#x" x="183.9" y="282.7"/>
<use href="#x" x="122.3" y="333.2"/>
<use href="#x" x="136.8" y="333.2"/>
<use href="#x" x="130.1" y="313.4"/>
<use href="#x" x="129.2" y="322.2"/>
<use href="#x" x="137.1" y="328.5"/>
<use href="#x" x="132.8" y="308.5"/>
<use href="#x" x="123.1" y="332.3"/>
<use href="#x" x="131.7" y="335.8"/>
<use href="#x" x="137.9" y="340.1"/>
<use href="#x" x="134.4" y="339.8"/>
<use href="#x" x="122.0" y="353.7"/>
<use href="#x" x="135.1" y="306.8"/>
<use href="#x" x="127.9" y="319.1"/>
<use href="#x" x="122.5" y="338.4"/>
<use href="#x" x="138.5" y="335.3"/>
<use href="#x" x="119.3" y="312.4"/>
<use href="#x" x="121.2" y="310.9"/>
<use href="#x" x="121.6" y="314.2"/>
<use href="#x" x="172.2" y="277.2"/>
<use href="#x" x="180.4" y="279.1"/>
<use href="#x" x="164.4" y="287.0"/>
<use href="#x" x="174.8" y="305.1"/>
<use href="#x" x="178.0" y="304.1"/>
<use href="#x" x="173.1" y="278.0"/>
<use href="#x" x="183.8" y="303.8"/>
<use href="#x" x="181.5" y="276.5"/>
<use href="#x" x="184.8" y="291.5"/>
<use href="#x" x="167.5" y="298.2"/>
<use href="#x" x="198.0" y="304.4"/>
<use href="#x" x="196.2" y="290.4"/>
<use href="#x" x="167.5" y="290.1"/>
<use href="#x" x="173.4" y="279.2"/>
<use href="#x" x="197.1" y="304.4"/>
<use href="#x" x="190.1" y="300.3"/>
<use href="#x" x="179.1" y="303.3"/>
<use href="#x" x="183.5" y="290.9"/>
<use href="#x" x="194.9" y="291.6"/>
<use href="#x" x="186.2" y="284.1"/>
<use href="#x" x="179.6" y="286.6"/>
<use href="#x" x="184.1" y="277.5"/>
<use href="#x" x="191.4" y="297.3"/>
<use href="#x" x="196.2" y="280.2"/>
<use href="#x" x="187.4" y="302.3"/>
<use href="#x" x="367.4" y="101.6"/>
<use href="#x" x="187.0" y="220.4"/>
<use href="#x" x="254.2" y="152.0"/>
<use href="#x" x="230.6" y="192.0"/>
<use href="#x" x="219.0" y="206.4"/>
<use href="#x" x="240.6" y="212.6"/>
<use href="#x" x="296.6" y="212.4"/>
<use href="#x" x="197.0" y="220.0"/>
<use href="#x" x="206.0" y="223.0"/>
<use href="#x" x="223.6" y="218.0"/>
<use href="#x" x="217.0" y="233.0"/>
<use href="#x" x="249.0" y="232.0"/>
<use href="#x" x="362.0" y="211.6"/>
<use href="#x" x="485.0" y="264.6"/>
<use href="#x" x="327.0" y="263.4"/>
<use href="#x" x="335.6" y="265.6"/>
<use href="#x" x="312.0" y="267.0"/>
<use href="#x" x="304.4" y="272.0"/>
<use href="#x" x="389.6" y="272.6"/>
<use href="#x" x="290.0" y="286.6"/>
<use href="#x" x="318.4" y="288.6"/>
<use href="#x" x="274.0" y="325.0"/>
<use href="#x" x="451.0" y="353.0"/>
<use href="#x" x="522.0" y="403.6"/>
<use href="#x" x="646.2" y="404.4"/>
<use href="#x" x="491.8" y="454.4"/>
<use href="#x" x="415.0" y="469.6"/>
<use href="#x" x="298.6" y="403.0"/>
<use href="#x" x="354.6" y="423.6"/>
<use href="#x" x="387.0" y="417.6"/>
<use href="#x" x="340.6" y="456.0"/>
<use href="#x" x="290.6" y="463.0"/>
<use href="#x" x="350.6" y="482.6"/>
<use href="#x" x="342.0" y="385.0"/>
<use href="#x" x="205.2" y="237.0"/>
<use href="#x" x="201.8" y="241.0"/>
<use href="#x" x="215.0" y="237.3"/>
<use href="#x" x="223.2" y="242.5"/>
<use href="#x" x="229.9" y="247.7"/>
<use href="#x" x="218.8" y="257.3"/>
<use href="#x" x="207.7" y="255.1"/>
<use href="#x" x="199.6" y="261.7"/>
<use href="#x" x="188.5" y="252.9"/>
<use href="#x" x="176.6" y="266.9"/>
<use href="#x" x="190.0" y="267.7"/>
<use href="#x" x="162.6" y="267.7"/>
<use href="#x" x="113.6" y="294.0"/>
<use href="#x" x="124.4" y="290.4"/>
<use href="#x" x="154.0" y="275.0"/>
<use href="#x" x="269.0" y="268.6"/>
<use href="#x" x="229.6" y="272.0"/>
<use href="#x" x="229.6" y="286.0"/>
<use href="#x" x="238.6" y="291.6"/>
<use href="#x" x="242.6" y="293.0"/>
<use href="#x" x="236.0" y="299.0"/>
<use href="#x" x="234.0" y="305.0"/>
<use href="#x" x="230.0" y="307.0"/>
<use href="#x" x="246.4" y="313.6"/>
<use href="#x" x="262.0" y="316.0"/>
<use href="#x" x="271.6" y="320.0"/>
<use href="#x" x="272.4" y="326.4"/>
<use href="#x" x="230.0" y="328.0"/>
<use href="#x" x="261.0" y="335.0"/>
<use href="#x" x="219.0" y="256.6"/>
<use href="#x" x="111.0" y="375.0"/>
<use href="#x" x="120.0" y="372.4"/>
<use href="#x" x="144.0" y="402.0"/>
<use href="#x" x="150.0" y="406.0"/>
<use href="#x" x="160.0" y="413.0"/>
<use href="#x" x="162.0" y="410.0"/>
<use href="#x" x="170.0" y="412.0"/>
<use href="#x" x="176.0" y="412.0"/>
<use href="#x" x="181.0" y="408.0"/>
<use href="#x" x="184.0" y="420.0"/>
<use href="#x" x="191.0" y="415.0"/>
<use href="#x" x="157.0" y="423.0"/>
<use href="#x" x="173.6" y="429.0"/>
<use href="#x" x="202.0" y="451.0"/>
<use href="#x" x="206.0" y="426.0"/>
<use href="#x" x="223.0" y="428.0"/>
<use href="#x" x="222.0" y="416.0"/>
<use href="#x" x="172.0" y="402.0"/>
<use href="#x" x="119.0" y="360.7"/>
<use href="#x" x="117.6" y="365.0"/>
<use href="#x" x="120.3" y="372.2"/>
<use href="#x" x="261.0" y="334.4"/>
<use href="#x" x="331.4" y="370.7"/>
<use href="#x" x="269.2" y="376.6"/>
<use href="#x" x="255.9" y="365.5"/>
<use href="#x" x="255.9" y="375.9"/>
<use href="#x" x="273.0" y="385.5"/>
<use href="#x" x="263.3" y="386.2"/>
<use href="#x" x="301.0" y="387.0"/>
<use href="#x" x="340.2" y="385.5"/>
<use href="#x" x="277.4" y="398.0"/>
<use href="#x" x="257.4" y="393.6"/>
<use href="#x" x="256.7" y="397.3"/>
<use href="#x" x="189.6" y="410.5"/>
<use href="#x" x="217.0" y="409.8"/>
<use href="#x" x="214.0" y="407.6"/>
<use href="#x" x="215.5" y="400.2"/>
<use href="#x" x="200.0" y="401.7"/>
<use href="#x" x="184.4" y="398.0"/>
<use href="#x" x="152.0" y="256.6"/>
<polygon points="152.0,294.0 156.0,298.0 160.0,305.0 165.0,313.0 170.0,322.0 177.0,330.0 183.0,340.0 187.0,352.0 185.0,364.0 178.0,372.0 172.0,377.0 162.0,381.0 150.0,383.0 143.0,381.0 139.0,372.0 137.0,360.0 138.0,350.0 140.0,340.0 142.0,330.0 145.0,320.0 147.0,310.0 149.0,300.0" fill="#008000"/>
<use href="#t" x="183.1" y="364.9"/>
<use href="#t" x="194.7" y="361.9"/>
<use href="#t" x="147.7" y="315.4"/>
<use href="#t" x="163.7" y="323.0"/>
<use href="#t" x="144.8" y="319.4"/>
<use href="#t" x="188.0" y="305.1"/>
<use href="#t" x="144.1" y="359.1"/>
<use href="#t" x="159.3" y="331.9"/>
<use href="#t" x="202.2" y="339.0"/>
<use href="#t" x="183.1" y="360.4"/>
<use href="#t" x="153.5" y="352.4"/>
<use href="#t" x="198.1" y="318.0"/>
<use href="#t" x="181.5" y="341.3"/>
<use href="#t" x="167.6" y="335.3"/>
<use href="#t" x="170.0" y="322.3"/>
<use href="#t" x="150.2" y="340.9"/>
<use href="#t" x="165.8" y="295.6"/>
<use href="#t" x="151.2" y="305.5"/>
<use href="#t" x="148.7" y="366.3"/>
<use href="#t" x="161.8" y="333.9"/>
<use href="#t" x="145.1" y="368.0"/>
<use href="#t" x="157.7" y="360.1"/>
<use href="#t" x="152.0" y="300.0"/>
<use href="#t" x="171.5" y="377.6"/>
<use href="#t" x="149.6" y="381.7"/>
<use href="#t" x="182.2" y="386.9"/>
<use href="#t" x="145.5" y="334.0"/>
<use href="#t" x="141.1" y="349.2"/>
<use href="#t" x="161.4" y="355.5"/>
<use href="#t" x="178.1" y="299.7"/>
<use href="#t" x="195.6" y="372.9"/>
<use href="#t" x="136.1" y="381.1"/>
<use href="#t" x="151.2" y="344.3"/>
<use href="#t" x="182.6" y="336.1"/>
<use href="#t" x="140.8" y="292.3"/>
<use href="#t" x="158.0" y="370.6"/>
<use href="#t" x="180.1" y="378.9"/>
<use href="#t" x="171.1" y="361.8"/>
<use href="#t" x="178.8" y="337.7"/>
<use href="#t" x="189.4" y="360.0"/>
<use href="#t" x="150.9" y="318.8"/>
<use href="#t" x="132.5" y="297.2"/>
<use href="#t" x="182.6" y="366.7"/>
<use href="#t" x="182.1" y="323.6"/>
<use href="#t" x="164.1" y="332.5"/>
<use href="#t" x="168.9" y="344.4"/>
<use href="#t" x="199.5" y="336.3"/>
<use href="#t" x="201.4" y="339.7"/>
<use href="#t" x="134.9" y="386.3"/>
<use href="#t" x="168.3" y="304.5"/>
<use href="#t" x="149.0" y="306.9"/>
<use href="#t" x="134.0" y="349.1"/>
<use href="#t" x="178.5" y="369.1"/>
<use href="#t" x="170.0" y="359.5"/>
<use href="#t" x="169.3" y="352.7"/>
<use href="#t" x="159.6" y="321.3"/>
<use href="#t" x="149.5" y="339.7"/>
<use href="#t" x="170.9" y="315.8"/>
<use href="#t" x="180.8" y="320.9"/>
<use href="#t" x="147.2" y="314.0"/>
<use href="#t" x="173.3" y="348.2"/>
<use href="#t" x="178.1" y="387.6"/>
<use href="#t" x="160.6" y="379.7"/>
<use href="#t" x="177.4" y="355.1"/>
<use href="#t" x="195.5" y="333.0"/>
<use href="#t" x="144.9" y="369.0"/>
<use href="#t" x="158.6" y="326.6"/>
<use href="#t" x="156.8" y="363.1"/>
<use href="#t" x="147.2" y="291.0"/>
<use href="#t" x="162.6" y="294.7"/>
<use href="#t" x="151.1" y="347.9"/>
<use href="#t" x="165.1" y="343.0"/>
<use href="#t" x="140.2" y="339.3"/>
<use href="#t" x="143.0" y="305.7"/>
<use href="#t" x="162.1" y="310.4"/>
<use href="#t" x="173.3" y="326.8"/>
<use href="#t" x="138.6" y="344.1"/>
<use href="#t" x="166.6" y="352.0"/>
<use href="#t" x="148.5" y="313.4"/>
<use href="#t" x="191.8" y="348.0"/>
<use href="#t" x="199.7" y="332.9"/>
<use href="#t" x="182.2" y="355.5"/>
<use href="#t" x="176.0" y="352.7"/>
<use href="#t" x="157.9" y="380.0"/>
<use href="#t" x="196.4" y="340.4"/>
<use href="#t" x="182.7" y="303.0"/>
<use href="#t" x="154.0" y="354.4"/>
<use href="#t" x="175.4" y="350.0"/>
<use href="#t" x="148.3" y="332.1"/>
<use href="#t" x="155.4" y="363.5"/>
<use href="#t" x="167.2" y="331.3"/>
<use href="#t" x="189.0" y="367.9"/>
<use href="#t" x="186.6" y="334.1"/>
<use href="#t" x="176.0" y="390.1"/>
<use href="#t" x="143.6" y="347.6"/>
<use href="#t" x="136.8" y="320.3"/>
<use href="#t" x="179.7" y="307.9"/>
<use href="#t" x="144.7" y="309.8"/>
<use href="#t" x="173.6" y="305.2"/>
<use href="#t" x="180.6" y="359.7"/>
<use href="#t" x="147.1" y="375.4"/>
<use href="#t" x="181.7" y="352.5"/>
<use href="#t" x="161.6" y="379.1"/>
<use href="#t" x="163.4" y="390.3"/>
<use href="#t" x="177.8" y="365.6"/>
<use href="#t" x="155.8" y="345.3"/>
<use href="#t" x="161.2" y="298.5"/>
<use href="#t" x="172.8" y="385.0"/>
<use href="#t" x="171.3" y="387.9"/>
<use href="#t" x="166.4" y="303.3"/>
<use href="#t" x="144.2" y="314.9"/>
<use href="#t" x="180.9" y="321.0"/>
<use href="#t" x="175.6" y="322.3"/>
<use href="#t" x="183.1" y="384.7"/>
<use href="#t" x="186.4" y="330.2"/>
<use href="#t" x="163.9" y="340.8"/>
<use href="#t" x="176.4" y="379.2"/>
<use href="#t" x="194.0" y="317.9"/>
<use href="#t" x="146.4" y="349.7"/>
<use href="#t" x="168.5" y="307.1"/>
<use href="#t" x="190.0" y="344.7"/>
<use href="#t" x="152.7" y="383.1"/>
<use href="#t" x="187.8" y="310.9"/>
<use href="#t" x="164.0" y="373.6"/>
<use href="#t" x="143.7" y="366.4"/>
<use href="#t" x="181.3" y="310.6"/>
<use href="#t" x="138.5" y="365.4"/>
<use href="#t" x="138.2" y="308.2"/>
<use href="#t" x="156.9" y="305.0"/>
<use href="#t" x="198.0" y="373.6"/>
<use href="#t" x="136.3" y="324.0"/>
<use href="#t" x="176.2" y="339.0"/>
<use href="#t" x="155.2" y="331.3"/>
<use href="#t" x="189.4" y="379.1"/>
<use href="#t" x="169.0" y="302.3"/>
<use href="#t" x="168.7" y="354.4"/>
<use href="#t" x="166.3" y="321.1"/>
<use href="#t" x="172.4" y="312.1"/>
<use href="#t" x="160.8" y="365.2"/>
<use href="#t" x="139.8" y="362.1"/>
<use href="#t" x="188.0" y="338.4"/>
<use href="#t" x="164.1" y="379.9"/>
<use href="#t" x="182.4" y="350.3"/>
<use href="#t" x="203.2" y="348.3"/>
<use href="#t" x="138.3" y="343.5"/>
<use href="#t" x="181.8" y="367.8"/>
<use href="#t" x="176.1" y="373.2"/>
<use href="#t" x="154.4" y="322.1"/>
<use href="#t" x="164.3" y="302.8"/>
<use href="#t" x="195.6" y="350.3"/>
<use href="#t" x="147.7" y="272.3"/>
<use href="#t" x="127.5" y="280.5"/>
<use href="#t" x="166.9" y="288.7"/>
<use href="#t" x="145.6" y="284.1"/>
<use href="#t" x="136.5" y="292.1"/>
<use href="#t" x="150.7" y="266.4"/>
<use href="#t" x="162.2" y="294.3"/>
<use href="#t" x="156.4" y="272.7"/>
<use href="#t" x="139.9" y="295.4"/>
<use href="#t" x="136.3" y="301.6"/>
<use href="#t" x="128.3" y="273.9"/>
<use href="#t" x="152.7" y="277.3"/>
<use href="#t" x="150.6" y="281.7"/>
<use href="#t" x="130.6" y="270.8"/>
<use href="#t" x="128.9" y="293.1"/>
<use href="#t" x="157.4" y="299.2"/>
<use href="#t" x="150.9" y="281.1"/>
<use href="#t" x="154.5" y="297.2"/>
<use href="#t" x="167.5" y="289.0"/>
<use href="#t" x="156.5" y="274.4"/>
<use href="#t" x="129.1" y="287.4"/>
<use href="#t" x="141.1" y="289.8"/>
<use href="#t" x="172.9" y="361.6"/>
<use href="#t" x="157.1" y="332.8"/>
<use href="#t" x="173.7" y="349.5"/>
<use href="#t" x="142.5" y="330.7"/>
<use href="#t" x="161.8" y="330.6"/>
<use href="#t" x="153.5" y="351.4"/>
<use href="#t" x="148.5" y="314.6"/>
<use href="#t" x="139.3" y="348.4"/>
<use href="#t" x="183.6" y="346.6"/>
<use href="#t" x="166.7" y="370.3"/>
<use href="#t" x="166.2" y="324.3"/>
<use href="#t" x="147.3" y="378.0"/>
<use href="#t" x="163.3" y="341.2"/>
<use href="#t" x="148.1" y="316.0"/>
<use href="#t" x="176.8" y="362.6"/>
<use href="#t" x="147.2" y="336.2"/>
<use href="#t" x="165.6" y="347.8"/>
<use href="#t" x="143.4" y="372.4"/>
<use href="#t" x="173.2" y="332.7"/>
<use href="#t" x="153.5" y="306.7"/>
<use href="#t" x="169.2" y="361.1"/>
<use href="#t" x="158.3" y="348.4"/>
<use href="#t" x="145.5" y="372.5"/>
<use href="#t" x="145.9" y="362.3"/>
<use href="#t" x="145.3" y="353.4"/>
<use href="#t" x="166.5" y="323.2"/>
<use href="#t" x="158.9" y="337.7"/>
<use href="#t" x="150.9" y="305.4"/>
<use href="#t" x="166.3" y="319.9"/>
<use href="#t" x="163.8" y="360.2"/>
<use href="#t" x="140.6" y="338.1"/>
<use href="#t" x="168.7" y="347.8"/>
<use href="#t" x="150.4" y="340.4"/>
<use href="#t" x="166.5" y="376.2"/>
<use href="#t" x="166.8" y="375.7"/>
<use href="#t" x="172.6" y="373.8"/>
<use href="#t" x="146.2" y="326.8"/>
<use href="#t" x="157.7" y="323.1"/>
<use href="#t" x="150.3" y="355.9"/>
<use href="#t" x="169.0" y="347.7"/>
<use href="#t" x="175.4" y="355.7"/>
<use href="#t" x="174.0" y="349.3"/>
<use href="#t" x="142.6" y="342.5"/>
<use href="#t" x="151.6" y="327.3"/>
<use href="#t" x="151.7" y="320.3"/>
<use href="#t" x="145.2" y="359.9"/>
<use href="#t" x="149.9" y="374.3"/>
<use href="#t" x="147.3" y="334.7"/>
<use href="#t" x="153.5" y="345.9"/>
<use href="#t" x="145.6" y="337.1"/>
<use href="#t" x="164.0" y="350.1"/>
<use href="#t" x="170.5" y="360.2"/>
<use href="#t" x="166.3" y="326.1"/>
<use href="#t" x="149.0" y="321.9"/>
<use href="#t" x="145.7" y="357.2"/>
<use href="#t" x="144.4" y="377.9"/>
<use href="#t" x="166.3" y="320.3"/>
<use href="#t" x="150.4" y="369.3"/>
<use href="#t" x="148.2" y="339.3"/>
<use href="#t" x="184.6" y="347.0"/>
<use href="#t" x="179.5" y="353.1"/>
<use href="#t" x="160.0" y="322.4"/>
<use href="#t" x="183.5" y="350.9"/>
<use href="#t" x="160.1" y="347.7"/>
<use href="#t" x="162.2" y="324.3"/>
<use href="#t" x="153.9" y="353.8"/>
<use href="#t" x="169.7" y="361.1"/>
<use href="#t" x="164.6" y="350.7"/>
<use href="#t" x="180.7" y="366.3"/>
<use href="#t" x="138.6" y="365.3"/>
<use href="#t" x="166.5" y="366.4"/>
<use href="#t" x="166.7" y="341.6"/>
<use href="#t" x="166.2" y="366.3"/>
<use href="#t" x="172.7" y="367.2"/>
<use href="#t" x="168.7" y="322.2"/>
<use href="#t" x="141.4" y="342.3"/>
<use href="#t" x="148.6" y="322.1"/>
<use href="#t" x="173.3" y="364.4"/>
<use href="#t" x="152.1" y="370.7"/>
<use href="#t" x="157.2" y="361.6"/>
<use href="#t" x="150.6" y="314.0"/>
<use href="#t" x="152.2" y="335.4"/>
<use href="#t" x="175.1" y="344.4"/>
<use href="#t" x="158.7" y="378.8"/>
<use href="#t" x="156.3" y="331.9"/>
<use href="#t" x="172.2" y="333.2"/>
<use href="#t" x="155.0" y="371.0"/>
<use href="#t" x="159.9" y="365.2"/>
<use href="#t" x="147.5" y="359.9"/>
<use href="#t" x="150.5" y="372.8"/>
<use href="#t" x="177.6" y="363.7"/>
<use href="#t" x="151.8" y="319.1"/>
<use href="#t" x="152.5" y="314.6"/>
<use href="#t" x="143.2" y="336.1"/>
<use href="#t" x="161.4" y="379.3"/>
<use href="#t" x="154.7" y="339.4"/>
<use href="#t" x="145.3" y="361.0"/>
<use href="#t" x="157.0" y="369.8"/>
<use href="#t" x="167.0" y="354.5"/>
<use href="#t" x="156.4" y="373.3"/>
<use href="#t" x="152.1" y="296.7"/>
<use href="#t" x="185.0" y="347.7"/>
<use href="#t" x="168.4" y="349.8"/>
<use href="#t" x="157.3" y="320.3"/>
<use href="#t" x="169.6" y="344.8"/>
<use href="#t" x="162.0" y="368.3"/>
<use href="#t" x="149.3" y="336.9"/>
<use href="#t" x="144.6" y="350.6"/>
<use href="#t" x="148.7" y="342.5"/>
<use href="#t" x="148.5" y="375.0"/>
<use href="#t" x="157.6" y="317.2"/>
<use href="#t" x="158.1" y="323.1"/>
<use href="#t" x="182.1" y="362.9"/>
<use href="#t" x="163.8" y="355.9"/>
<use href="#t" x="155.1" y="346.9"/>
<use href="#t" x="146.4" y="343.2"/>
<use href="#t" x="151.4" y="372.2"/>
<use href="#t" x="175.7" y="363.2"/>
<use href="#t" x="164.2" y="312.5"/>
<use href="#t" x="143.8" y="346.3"/>
<use href="#t" x="155.1" y="326.5"/>
<use href="#t" x="154.2" y="342.8"/>
<use href="#t" x="170.4" y="351.8"/>
<use href="#t" x="154.2" y="336.3"/>
<use href="#t" x="160.8" y="376.2"/>
<use href="#t" x="161.3" y="337.8"/>
<use href="#t" x="168.5" y="344.3"/>
<use href="#t" x="144.9" y="345.3"/>
<use href="#t" x="152.9" y="323.7"/>
<use href="#t" x="151.1" y="348.0"/>
<use href="#t" x="179.7" y="360.3"/>
<use href="#t" x="147.9" y="344.8"/>
<use href="#t" x="154.0" y="362.4"/>
<use href="#t" x="142.5" y="321.2"/>
<use href="#t" x="182.5" y="340.9"/>
<use href="#t" x="181.4" y="345.1"/>
<use href="#t" x="139.1" y="380.1"/>
<use href="#t" x="156.5" y="338.7"/>
<use href="#t" x="159.0" y="304.6"/>
<use href="#t" x="160.8" y="365.5"/>
<use href="#t" x="158.0" y="318.1"/>
<use href="#t" x="159.1" y="356.9"/>
<use href="#t" x="181.5" y="334.6"/>
<use href="#t" x="162.8" y="309.4"/>
<use href="#t" x="152.4" y="315.2"/>
<use href="#t" x="176.4" y="333.7"/>
<use href="#t" x="142.4" y="338.2"/>
<use href="#t" x="168.1" y="351.8"/>
<use href="#t" x="179.8" y="350.7"/>
<use href="#t" x="172.0" y="330.9"/>
<use href="#t" x="172.4" y="351.9"/>
<use href="#t" x="178.1" y="350.5"/>
<use href="#t" x="179.4" y="351.8"/>
<use href="#t" x="150.1" y="373.2"/>
<use href="#t" x="152.8" y="341.0"/>
<use href="#t" x="145.9" y="304.2"/>
<use href="#t" x="156.0" y="364.9"/>
<use href="#t" x="169.9" y="338.8"/>
<use href="#t" x="164.2" y="321.5"/>
<use href="#t" x="162.0" y="331.3"/>
<use href="#t" x="173.6" y="322.1"/>
<use href="#t" x="143.5" y="342.2"/>
<use href="#t" x="156.0" y="367.8"/>
<use href="#t" x="147.5" y="363.2"/>
<use href="#t" x="159.8" y="316.0"/>
<use href="#t" x="178.2" y="349.5"/>
<use href="#t" x="161.3" y="326.4"/>
<use href="#t" x="163.1" y="341.7"/>
<use href="#t" x="177.1" y="335.0"/>
<use href="#t" x="136.9" y="362.7"/>
<use href="#t" x="166.8" y="368.4"/>
<use href="#t" x="155.2" y="307.5"/>
<use href="#t" x="171.3" y="339.5"/>
<use href="#t" x="172.1" y="342.2"/>
<use href="#t" x="145.9" y="317.1"/>
<use href="#t" x="147.7" y="306.8"/>
<use href="#t" x="140.0" y="336.0"/>
<use href="#t" x="176.5" y="362.5"/>
<use href="#t" x="187.2" y="348.0"/>
<use href="#t" x="147.7" y="296.2"/>
<use href="#t" x="141.3" y="361.5"/>
<use href="#t" x="159.6" y="318.4"/>
<use href="#t" x="149.9" y="364.9"/>
<use href="#t" x="171.2" y="342.2"/>
<use href="#t" x="179.0" y="341.2"/>
<use href="#t" x="146.3" y="356.9"/>
<use href="#t" x="138.4" y="352.5"/>
<use href="#t" x="175.3" y="332.2"/>
<use href="#t" x="144.1" y="345.5"/>
<use href="#t" x="174.1" y="362.7"/>
<use href="#t" x="152.2" y="343.5"/>
<use href="#t" x="158.5" y="374.0"/>
<use href="#t" x="170.2" y="311.5"/>
<use href="#t" x="180.6" y="361.8"/>
<use href="#t" x="154.4" y="323.4"/>
<use href="#t" x="155.3" y="324.1"/>
<use href="#t" x="149.4" y="304.6"/>
<use href="#t" x="149.7" y="312.2"/>
<use href="#t" x="167.7" y="350.8"/>
<use href="#t" x="187.3" y="366.9"/>
<use href="#t" x="176.5" y="329.1"/>
<use href="#t" x="154.5" y="348.4"/>
<use href="#t" x="182.7" y="356.8"/>
<use href="#t" x="170.8" y="335.3"/>
<use href="#t" x="146.5" y="338.0"/>
<use href="#t" x="167.3" y="355.8"/>
<use href="#t" x="172.2" y="368.9"/>
<use href="#t" x="139.5" y="331.4"/>
<use href="#t" x="179.5" y="331.4"/>
<use href="#t" x="157.0" y="302.3"/>
<use href="#t" x="167.7" y="343.6"/>
<use href="#t" x="157.2" y="311.7"/>
<use href="#t" x="139.4" y="350.8"/>
<use href="#t" x="154.9" y="333.5"/>
<use href="#t" x="173.6" y="363.6"/>
<use href="#t" x="171.5" y="337.7"/>
<use href="#t" x="169.0" y="344.8"/>
<use href="#t" x="172.8" y="371.4"/>
<use href="#t" x="145.1" y="330.6"/>
<use href="#t" x="156.6" y="355.8"/>
<use href="#t" x="155.3" y="327.5"/>
<use href="#t" x="149.4" y="375.5"/>
<use href="#t" x="176.4" y="333.1"/>
<use href="#t" x="165.4" y="314.7"/>
<use href="#t" x="167.8" y="366.0"/>
<use href="#t" x="138.5" y="349.6"/>
<use href="#t" x="187.1" y="362.2"/>
<use href="#t" x="170.8" y="342.8"/>
<use href="#t" x="143.9" y="338.3"/>
<use href="#t" x="177.9" y="342.2"/>
<use href="#t" x="143.2" y="372.9"/>
<use href="#t" x="142.4" y="317.6"/>
<use href="#t" x="179.3" y="342.3"/>
<use href="#t" x="183.2" y="352.5"/>
<use href="#t" x="152.4" y="373.5"/>
<use href="#t" x="183.4" y="353.2"/>
<use href="#t" x="173.2" y="353.1"/>
<use href="#t" x="177.5" y="361.0"/>
<use href="#t" x="158.3" y="344.1"/>
<use href="#t" x="169.8" y="364.9"/>
<use href="#t" x="170.8" y="316.2"/>
<use href="#t" x="146.9" y="359.4"/>
<use href="#t" x="165.4" y="324.3"/>
<use href="#t" x="150.0" y="313.7"/>
<use href="#t" x="143.2" y="326.4"/>
<use href="#t" x="157.8" y="343.7"/>
<use href="#t" x="160.6" y="377.3"/>
<use href="#t" x="172.4" y="331.0"/>
<use href="#t" x="160.6" y="336.1"/>
<use href="#t" x="147.2" y="366.9"/>
<use href="#t" x="161.0" y="298.0"/>
<use href="#t" x="143.5" y="372.8"/>
<use href="#t" x="147.5" y="344.8"/>
<use href="#t" x="166.1" y="307.9"/>
<use href="#t" x="147.2" y="381.1"/>
<use href="#t" x="149.4" y="378.3"/>
<use href="#t" x="160.7" y="341.6"/>
<use href="#t" x="160.2" y="346.1"/>
<use href="#t" x="160.0" y="314.4"/>
<use href="#t" x="150.9" y="365.5"/>
<use href="#t" x="174.5" y="351.5"/>
<use href="#t" x="155.9" y="298.2"/>
<use href="#t" x="172.6" y="325.5"/>
<use href="#t" x="154.6" y="324.2"/>
<use href="#t" x="150.9" y="358.5"/>
<use href="#t" x="154.4" y="301.5"/>
<use href="#t" x="151.0" y="380.4"/>
<use href="#t" x="165.5" y="335.8"/>
<use href="#t" x="164.6" y="368.8"/>
<use href="#t" x="159.6" y="303.6"/>
<use href="#t" x="139.6" y="366.2"/>
<use href="#t" x="136.6" y="373.2"/>
<use href="#t" x="174.5" y="360.2"/>
<use href="#t" x="174.2" y="346.7"/>
<use href="#t" x="144.0" y="329.7"/>
<use href="#t" x="171.5" y="327.2"/>
<use href="#t" x="161.5" y="306.0"/>
<use href="#t" x="151.5" y="298.0"/>
<use href="#t" x="174.1" y="360.6"/>
<use href="#t" x="159.6" y="329.1"/>
<use href="#t" x="161.3" y="331.7"/>
<use href="#t" x="152.3" y="331.8"/>
<use href="#t" x="138.4" y="358.4"/>
<use href="#t" x="143.8" y="333.3"/>
<use href="#t" x="154.7" y="328.3"/>
<use href="#t" x="157.7" y="339.9"/>
<use href="#t" x="181.0" y="369.3"/>
<use href="#t" x="143.2" y="324.6"/>
<use href="#t" x="186.9" y="365.3"/>
<use href="#t" x="178.5" y="325.8"/>
<use href="#t" x="157.9" y="333.9"/>
<use href="#t" x="159.1" y="328.4"/>
<use href="#t" x="174.3" y="342.7"/>
<use href="#t" x="170.3" y="354.9"/>
<use href="#t" x="172.8" y="362.8"/>
<use href="#t" x="173.8" y="347.0"/>
<use href="#t" x="164.4" y="314.1"/>
<use href="#t" x="166.3" y="318.5"/>
<use href="#t" x="153.0" y="340.6"/>
<use href="#t" x="173.9" y="321.1"/>
<use href="#t" x="165.6" y="362.1"/>
<use href="#t" x="168.5" y="312.3"/>
<use href="#t" x="154.4" y="298.6"/>
<use href="#t" x="136.1" y="355.7"/>
<use href="#t" x="165.4" y="361.7"/>
<use href="#t" x="173.3" y="369.0"/>
<use href="#t" x="166.0" y="303.8"/>
<use href="#t" x="187.3" y="366.0"/>
<use href="#t" x="137.6" y="365.2"/>
<use href="#t" x="166.9" y="346.5"/>
<use href="#t" x="160.6" y="307.7"/>
<use href="#t" x="144.5" y="370.7"/>
<use href="#t" x="175.8" y="324.2"/>
<use href="#t" x="165.1" y="312.5"/>
<use href="#t" x="154.8" y="334.3"/>
<use href="#t" x="146.5" y="366.3"/>
<use href="#t" x="156.5" y="358.9"/>
<use href="#t" x="159.8" y="306.2"/>
<use href="#t" x="159.9" y="330.2"/>
<use href="#t" x="157.5" y="301.3"/>
<use href="#t" x="158.9" y="294.6"/>
<use href="#t" x="166.0" y="361.4"/>
<use href="#t" x="157.4" y="334.5"/>
<use href="#t" x="154.9" y="294.1"/>
<use href="#t" x="155.2" y="354.2"/>
<use href="#t" x="167.3" y="360.4"/>
<use href="#t" x="169.2" y="370.2"/>
<use href="#t" x="150.1" y="317.8"/>
<use href="#t" x="162.9" y="365.8"/>
<use href="#t" x="144.5" y="348.2"/>
<use href="#t" x="162.5" y="333.8"/>
<use href="#t" x="174.5" y="345.0"/>
<use href="#t" x="185.0" y="358.4"/>
<use href="#t" x="163.5" y="348.8"/>
<use href="#t" x="179.8" y="340.7"/>
<use href="#t" x="168.4" y="327.3"/>
<use href="#t" x="140.4" y="375.3"/>
<use href="#t" x="148.7" y="331.0"/>
<use href="#t" x="150.1" y="371.2"/>
<use href="#t" x="141.2" y="354.2"/>
<use href="#t" x="146.0" y="351.2"/>
<use href="#t" x="167.6" y="319.3"/>
<use href="#t" x="150.7" y="324.5"/>
<use href="#t" x="148.5" y="340.0"/>
<use href="#t" x="181.5" y="347.5"/>
<use href="#t" x="155.1" y="342.0"/>
<use href="#t" x="152.5" y="361.8"/>
<use href="#t" x="154.4" y="374.8"/>
<use href="#t" x="148.0" y="329.4"/>
<use href="#t" x="165.0" y="312.7"/>
<use href="#t" x="210.5" y="357.9"/>
<use href="#t" x="195.1" y="332.4"/>
<use href="#t" x="201.6" y="341.7"/>
<use href="#t" x="185.5" y="341.4"/>
<use href="#t" x="210.3" y="368.8"/>
<use href="#t" x="218.4" y="357.3"/>
<use href="#t" x="215.7" y="340.3"/>
<use href="#t" x="223.7" y="349.9"/>
<use href="#t" x="218.8" y="339.9"/>
<use href="#t" x="191.2" y="348.7"/>
<use href="#t" x="199.8" y="354.8"/>
<use href="#t" x="192.8" y="346.0"/>
<use href="#t" x="200.4" y="331.1"/>
<use href="#t" x="226.4" y="342.6"/>
<use href="#t" x="186.4" y="354.4"/>
<use href="#t" x="187.3" y="337.4"/>
<use href="#t" x="213.6" y="346.4"/>
<use href="#t" x="213.1" y="347.0"/>
<use href="#t" x="194.4" y="327.4"/>
<use href="#t" x="203.6" y="322.2"/>
<use href="#t" x="205.8" y="302.4"/>
<use href="#t" x="198.3" y="326.0"/>
<use href="#t" x="189.3" y="326.4"/>
<use href="#t" x="206.0" y="327.7"/>
<use href="#t" x="194.2" y="317.0"/>
<use href="#t" x="200.2" y="306.3"/>
<use href="#t" x="139.3" y="382.3"/>
<use href="#t" x="166.8" y="386.9"/>
<use href="#t" x="146.4" y="393.8"/>
<use href="#t" x="148.9" y="385.5"/>
<use href="#t" x="148.6" y="382.5"/>
<use href="#t" x="141.9" y="391.1"/>
<use href="#t" x="153.1" y="381.7"/>
<use href="#t" x="154.4" y="394.2"/>
<use href="#t" x="162.2" y="387.5"/>
<use href="#t" x="168.9" y="387.9"/>
<use href="#t" x="160.3" y="381.8"/>
<use href="#t" x="157.5" y="386.0"/>
<use href="#t" x="156.4" y="386.7"/>
<use href="#t" x="170.8" y="380.0"/>
<use href="#t" x="148.8" y="380.0"/>
<use href="#t" x="152.1" y="394.6"/>
<use href="#t" x="156.8" y="391.6"/>
<use href="#t" x="141.9" y="393.0"/>
<use href="#t" x="144.5" y="386.4"/>
<use href="#t" x="148.7" y="387.3"/>
<use href="#t" x="154.3" y="389.4"/>
<use href="#t" x="169.5" y="388.0"/>
<use href="#t" x="95.5" y="42.9"/>
<use href="#t" x="135.6" y="100.5"/>
<use href="#t" x="108.4" y="126.7"/>
<use href="#t" x="132.0" y="154.6"/>
<use href="#t" x="126.8" y="163.6"/>
<use href="#t" x="129.4" y="177.4"/>
<use href="#t" x="125.0" y="180.8"/>
<use href="#t" x="114.0" y="188.0"/>
<use href="#t" x="118.6" y="191.6"/>
<use href="#t" x="110.0" y="206.0"/>
<use href="#t" x="165.0" y="197.6"/>
<use href="#t" x="145.0" y="211.0"/>
<use href="#t" x="123.6" y="222.0"/>
<use href="#t" x="138.0" y="226.4"/>
<use href="#t" x="550.4" y="314.4"/>
<use href="#t" x="575.6" y="311.6"/>
<use href="#t" x="616.0" y="312.0"/>
<use href="#t" x="655.6" y="306.0"/>
<use href="#t" x="486.6" y="283.0"/>
<use href="#t" x="435.4" y="318.0"/>
<use href="#t" x="501.6" y="312.4"/>
<use href="#t" x="478.6" y="326.6"/>
<use href="#t" x="503.2" y="329.2"/>
<use href="#t" x="535.8" y="322.0"/>
<use href="#t" x="337.6" y="295.4"/>
<use href="#t" x="328.4" y="307.4"/>
<use href="#t" x="297.0" y="311.0"/>
<use href="#t" x="301.6" y="313.0"/>
<use href="#t" x="358.0" y="329.4"/>
<use href="#t" x="328.0" y="332.0"/>
<use href="#t" x="333.0" y="339.0"/>
<use href="#t" x="136.6" y="238.0"/>
<use href="#t" x="131.6" y="243.6"/>
<use href="#t" x="140.4" y="248.4"/>
<use href="#t" x="144.0" y="247.6"/>
<use href="#t" x="128.0" y="256.0"/>
<use href="#t" x="132.0" y="259.6"/>
<use href="#t" x="144.6" y="259.6"/>
<use href="#t" x="143.0" y="265.0"/>
<use href="#t" x="148.0" y="267.0"/>
<use href="#t" x="134.0" y="268.0"/>
<use href="#t" x="110.6" y="271.0"/>
<use href="#t" x="139.4" y="271.6"/>
<use href="#t" x="146.0" y="275.0"/>
<use href="#t" x="139.0" y="276.0"/>
<use href="#t" x="129.0" y="278.0"/>
<use href="#t" x="136.4" y="284.0"/>
<use href="#t" x="129.0" y="290.0"/>
<use href="#t" x="219.0" y="275.6"/>
<use href="#t" x="252.4" y="325.6"/>
<use href="#t" x="140.0" y="391.0"/>
<use href="#t" x="134.0" y="392.0"/>
<use href="#t" x="149.0" y="390.0"/>
<use href="#t" x="150.0" y="396.0"/>
<use href="#t" x="154.0" y="400.0"/>
<use href="#t" x="161.0" y="400.0"/>
<use href="#t" x="138.0" y="412.0"/>
<use href="#t" x="144.0" y="411.0"/>
<use href="#t" x="144.4" y="423.6"/>
<use href="#t" x="150.0" y="420.6"/>
<use href="#t" x="153.6" y="418.0"/>
<use href="#t" x="157.0" y="421.0"/>
<use href="#t" x="162.0" y="410.0"/>
<use href="#t" x="178.0" y="418.6"/>
<use href="#t" x="170.0" y="433.0"/>
<use href="#t" x="168.0" y="451.6"/>
<use href="#t" x="175.0" y="385.0"/>
<use href="#t" x="205.0" y="376.0"/>
<use href="#t" x="152.0" y="406.0"/>
<use href="#t" x="304.4" y="345.5"/>
<use href="#t" x="293.6" y="356.6"/>
<polygon points="132.5,336.5 141.0,336.5 134.5,351.5" fill="#0a0aff"/>
<polygon points="140.5,326.0 147.5,326.0 143.5,331.5" fill="#0a0aff"/>
</g>
<rect x="53.5" y="20.5" width="630.5" height="484.0" fill="none" stroke="#7a7a7a" stroke-width="1"/>
<rect x="684" y="20.0" width="1" height="485.0" fill="#000"/>
<g font-family="'Liberation Sans', sans-serif" filter="url(#gs)" font-size="11.6" fill="#000" text-anchor="middle">
<line x1="93.9" y1="504.5" x2="93.9" y2="508.0" stroke="#222" stroke-width="0.85"/>
<text x="93.9" y="520.3" textLength="27.4" lengthAdjust="spacingAndGlyphs">−0.1</text>
<line x1="165.4" y1="504.5" x2="165.4" y2="508.0" stroke="#222" stroke-width="0.85"/>
<text x="165.4" y="520.3" textLength="18.0" lengthAdjust="spacingAndGlyphs">0.0</text>
<line x1="236.9" y1="504.5" x2="236.9" y2="508.0" stroke="#222" stroke-width="0.85"/>
<text x="236.9" y="520.3" textLength="18.0" lengthAdjust="spacingAndGlyphs">0.1</text>
<line x1="308.3" y1="504.5" x2="308.3" y2="508.0" stroke="#222" stroke-width="0.85"/>
<text x="308.3" y="520.3" textLength="18.0" lengthAdjust="spacingAndGlyphs">0.2</text>
<line x1="379.8" y1="504.5" x2="379.8" y2="508.0" stroke="#222" stroke-width="0.85"/>
<text x="379.8" y="520.3" textLength="18.0" lengthAdjust="spacingAndGlyphs">0.3</text>
<line x1="451.2" y1="504.5" x2="451.2" y2="508.0" stroke="#222" stroke-width="0.85"/>
<text x="451.2" y="520.3" textLength="18.0" lengthAdjust="spacingAndGlyphs">0.4</text>
<line x1="522.7" y1="504.5" x2="522.7" y2="508.0" stroke="#222" stroke-width="0.85"/>
<text x="522.7" y="520.3" textLength="18.0" lengthAdjust="spacingAndGlyphs">0.5</text>
<line x1="594.2" y1="504.5" x2="594.2" y2="508.0" stroke="#222" stroke-width="0.85"/>
<text x="594.2" y="520.3" textLength="18.0" lengthAdjust="spacingAndGlyphs">0.6</text>
<line x1="665.6" y1="504.5" x2="665.6" y2="508.0" stroke="#222" stroke-width="0.85"/>
<text x="665.6" y="520.3" textLength="18.0" lengthAdjust="spacingAndGlyphs">0.7</text>
</g>
<g font-family="'Liberation Sans', sans-serif" filter="url(#gs)" font-size="11.6" fill="#000" text-anchor="end">
<line x1="53.5" y1="454.3" x2="50.0" y2="454.3" stroke="#222" stroke-width="0.85"/>
<text x="47" y="458.4" textLength="27.4" lengthAdjust="spacingAndGlyphs">−0.2</text>
<line x1="53.5" y1="397.7" x2="50.0" y2="397.7" stroke="#222" stroke-width="0.85"/>
<text x="47" y="401.8" textLength="27.4" lengthAdjust="spacingAndGlyphs">−0.1</text>
<line x1="53.5" y1="341.1" x2="50.0" y2="341.1" stroke="#222" stroke-width="0.85"/>
<text x="47" y="345.2" textLength="18.0" lengthAdjust="spacingAndGlyphs">0.0</text>
<line x1="53.5" y1="284.5" x2="50.0" y2="284.5" stroke="#222" stroke-width="0.85"/>
<text x="47" y="288.6" textLength="18.0" lengthAdjust="spacingAndGlyphs">0.1</text>
<line x1="53.5" y1="227.9" x2="50.0" y2="227.9" stroke="#222" stroke-width="0.85"/>
<text x="47" y="232.0" textLength="18.0" lengthAdjust="spacingAndGlyphs">0.2</text>
<line x1="53.5" y1="171.3" x2="50.0" y2="171.3" stroke="#222" stroke-width="0.85"/>
<text x="47" y="175.4" textLength="18.0" lengthAdjust="spacingAndGlyphs">0.3</text>
<line x1="53.5" y1="114.7" x2="50.0" y2="114.7" stroke="#222" stroke-width="0.85"/>
<text x="47" y="118.8" textLength="18.0" lengthAdjust="spacingAndGlyphs">0.4</text>
<line x1="53.5" y1="58.1" x2="50.0" y2="58.1" stroke="#222" stroke-width="0.85"/>
<text x="47" y="62.2" textLength="18.0" lengthAdjust="spacingAndGlyphs">0.5</text>
</g>
<text font-family="'Liberation Sans', sans-serif" filter="url(#gs)" font-size="15.2" x="286.5" y="537.6" textLength="166" lengthAdjust="spacingAndGlyphs">Principal Component 1</text>
<text font-family="'Liberation Sans', sans-serif" filter="url(#gs)" font-size="15.2" transform="translate(11.3,344.9) rotate(-90)" x="0" y="0" textLength="166" lengthAdjust="spacingAndGlyphs">Principal Component 2</text>
<text font-family="'Liberation Sans', sans-serif" filter="url(#gs)" font-size="21" x="285.5" y="14.5" textLength="168" lengthAdjust="spacingAndGlyphs">PCA Visualization</text>
<rect x="558.5" y="27.5" width="119.5" height="59.5" rx="2.5" fill="rgba(255,255,255,0.8)" stroke="#d6d6d6" stroke-width="1"/>
<use href="#o" x="576.2" y="38.7"/><use href="#x" x="576.2" y="57.0"/><use href="#t" x="576.2" y="76.2"/>
<g font-family="'Liberation Sans', sans-serif" filter="url(#gs)" font-size="12.4" fill="#000">
<text x="599.5" y="41.6" textLength="41" lengthAdjust="spacingAndGlyphs">Fullset</text>
<text x="599.5" y="60.5" textLength="52.3" lengthAdjust="spacingAndGlyphs">AlignSet</text>
<text x="599.5" y="78.9" textLength="73" lengthAdjust="spacingAndGlyphs">RandomSet</text>
</g>
</svg></body></html>
